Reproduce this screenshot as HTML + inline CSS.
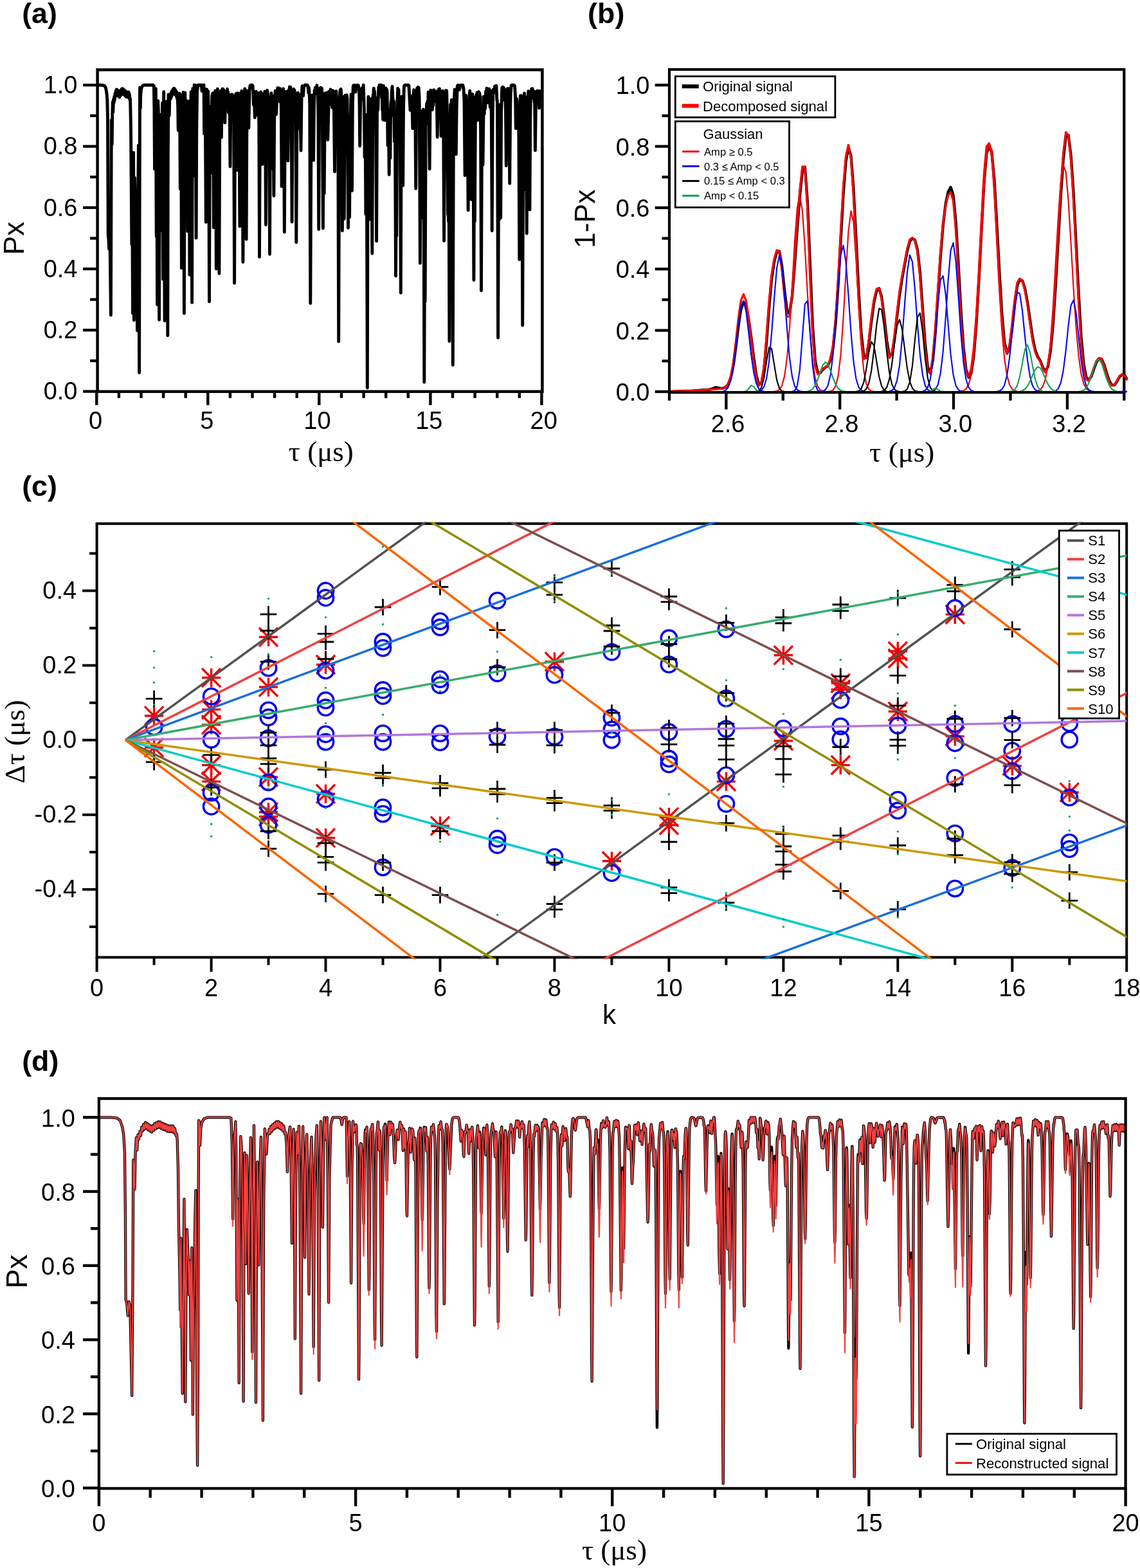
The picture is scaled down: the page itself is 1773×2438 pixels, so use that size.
<!DOCTYPE html>
<html lang="en"><head><meta charset="utf-8"><title>Figure</title><style>html,body{margin:0;padding:0;background:#fff}svg{display:block}</style></head><body>
<svg xmlns="http://www.w3.org/2000/svg" width="1773" height="2438" viewBox="0 0 1773 2438">
<rect width="1773" height="2438" fill="#fff"/>
<g id="pa">
<clipPath id="ca"><rect x="151.6" y="108.55" width="691.8" height="500.34999999999997"/></clipPath>
<path d="M150.3 132.3L158.6 132.3L162.1 133.2L162.6 133.7L164.3 136.2L164.6 137.4L165.9 144.8L166.8 154.9L167.5 184.1L168.2 365.9L169 372.4L169.6 387.1L170.4 369.2L171.1 376.9L172.4 489.9L173.3 186.8L173.8 194.3L174.2 224.5L174.7 180.2L175.3 158.5L175.8 174.3L176.5 154.5L177.1 160.1L177.7 150.3L178.3 155.9L179 144.9L179.6 149.8L180.2 141.3L180.8 147.6L181.4 138.9L182.1 146.6L182.7 139.9L183.3 148.6L183.9 141.6L184.6 150L185.2 143.4L185.8 151.4L186.4 142.8L187.1 149L187.7 140.2L188.3 147.2L188.9 139L189.5 145.9L190.2 137.7L190.8 145.2L191.4 138.2L192 146.5L192.7 139.6L193.3 147.7L193.9 140.4L194.5 148.5L195.1 141.5L195.8 149.8L196.4 142.7L197 150.8L197.6 143.2L198.3 150.8L198.9 143.2L199.5 150.8L200.1 143.2L200.8 152.2L201.4 146.5L202 155.6L202.6 153.5L203.5 199.2L204.9 380.1L205.5 287.9L206.5 487.2L207.6 237.3L208.4 497.9L209.5 276.4L211 360.5L211.6 319.7L212.2 444.6L212.8 300L213.5 514.1L214 380.7L215.4 226.3L216.6 579.6L217.5 136.2L217.8 138.5L218.3 168.3L218.8 147.7L219.4 140.1L219.6 138.4L221.2 134L223.7 132.3L238.1 132.3L239.3 133.3L239.9 167.6L240.5 263.1L241 182.5L241.4 156.7L242.3 137.8L243.2 367.4L243.9 246.7L244.6 473.6L245.2 232.4L245.7 156.7L246.3 169.9L246.6 195.9L247.6 497.2L248.4 177.9L249.2 320.5L250 183.8L251.1 358.4L251.8 236.2L252.6 159.9L253.6 434.2L254 246.6L254.7 142.7L256.1 498.7L257 189.6L258 322.2L258.7 205.8L259.4 157.7L260.8 521.8L261.3 240.5L262 147L263.2 179.6L263.7 156.8L264.8 151.4L264.9 147.5L265.5 153.2L266.2 143.7L266.8 150.4L267.4 141.4L268 147.8L268.6 139.6L269.3 146.4L269.9 137.8L270.5 144.8L271.1 137.5L271.8 146L272.4 139.3L273 147.5L273.6 140.9L274.3 149.9L274.9 143.3L275.5 153.5L275.8 151.4L276.1 151.8L276.7 166.1L277.2 202.5L277.9 161.4L279.1 145.1L279.7 185.2L280.3 294L280.8 185.8L281.5 147.5L282.4 416.9L283 204.8L283.7 151.6L284.4 179.5L285.1 143.5L285.7 236.3L286.4 487.2L287.1 207.9L287.8 144.2L288.4 199.5L289.1 312.4L289.6 197L290.5 156.6L291.8 359.6L292.7 206.4L293.6 157.7L294.3 239.3L294.9 427.2L295.6 229.8L296.1 182.9L297.2 142.6L297.9 237.8L298.6 470.4L299.2 211L299.8 137.6L300.6 182.6L301.1 273.5L302.1 135.3L302.2 132.3L302.7 141.9L303.2 160.7L304 132.4L305.1 370.1L305.7 208.6L306.6 141.7L308 132.3L312.8 132.3L313.4 134.7L314.1 141.6L314.6 134.8L315.2 132.5L317 132.3L317.6 208L318.2 158L319.1 138.2L320.3 345.4L320.8 199L321.5 139L322.4 151.1L323 144.3L323.7 141.9L324.6 189.3L325.5 469L326.5 171.8L326.7 165.8L327 167.5L327.2 166.5L327.6 178.1L327.9 176.5L328 179.2L328.8 268.9L329.6 155.1L329.8 148.6L330 148.3L330.3 150.4L330.9 144.8L331.6 186.9L332.3 353.9L333.4 155.5L333.6 147.9L333.8 146.8L334.1 148.1L334.7 141.2L335 151.2L335.6 214.5L336.3 418L337.3 162.1L338.4 138.1L339.1 174.2L339.7 151.2L340.9 425.4L341.7 213L342.4 145.3L342.6 144.5L342.8 146L343.4 141.2L344.4 213.5L345.1 158.3L345.9 138.2L346.5 154.7L347.1 138.4L347.8 146.6L348.4 141L349.8 190.9L350.5 159.7L351.4 148.7L351.7 149.8L352.2 160.8L353.4 138.4L354 147.1L354.6 142.8L355.3 175.1L355.9 147.4L356.4 172.1L357 150.8L358 259.1L358.8 171.8L359.7 146.9L360.5 177.2L361.2 147.9L361.3 147L361.5 148.5L361.7 147.9L362.1 151L362.8 187L363.5 159.3L364.6 440.3L365.6 171.1L365.9 151.9L366.1 149.6L366.4 150.9L366.9 145.8L367.4 163.4L368.2 264.6L369.5 146.4L369.6 144.8L370.2 149.4L370.7 145.7L371.3 175.6L371.9 159.6L372.9 351.9L374.1 160.9L374.5 144.5L375.2 149.5L375.8 141.5L376.7 156.6L377.9 407.5L379.2 162L379.5 142.9L380.1 146.6L380.8 137.9L381.4 148.1L381.7 147.5L381.9 149.4L382.2 165.8L383.1 372.1L383.9 187.5L384.5 141.3L385.1 145.3L385.3 143.6L385.5 145.4L386.8 199L388 141.4L388.9 133.3L389.6 132.4L392.1 132.3L392.7 132.6L393 133.7L393.6 140.5L394.3 163L394.9 148.8L395.4 151.9L396.3 182.9L397 152.5L397.2 149.9L397.6 151.7L398.2 142.3L399.2 151.3L399.7 178.8L400.4 148.7L401 162.4L401.9 144.8L402.8 197.1L403.5 399.5L404.4 180.3L404.7 160.2L405.7 142.9L406.4 171.6L406.9 150.9L407.1 154.2L408.2 255.4L409.4 151.5L409.8 145.8L410.4 148.4L411.2 180.6L411.7 146.9L411.9 142.1L412.1 145L412.7 187.2L413.4 349.5L414.5 157.9L415.7 140.5L416.6 150.4L417.5 183L418.1 150.9L418.7 200.7L419.5 395.3L420.5 165.5L420.8 152.4L421 151.1L421.3 152.2L421.9 144.6L422.4 170L423.2 262.3L424.1 161.1L424.4 149.4L424.8 157.9L425.9 304.6L427 151.3L427.2 150.2L427.5 151.4L428.1 141.4L428.7 149.1L429.1 147.7L429.7 177.9L430.8 146.6L431 145L431.2 146.2L431.8 136.8L432.5 144.7L433.1 136.8L434.1 157.7L434.6 143.1L435 145.6L435.6 137.7L436.2 146.5L436.8 142.3L437.3 168.5L438.1 289.9L439 163.1L439.3 155.8L439.7 169.8L440.6 138L441.4 176.2L442.3 360.9L443.5 154L444 156.2L444.7 142.4L445.3 149.5L445.8 142.4L446.2 145.9L446.5 144.1L446.8 146.9L447.8 250.1L449.3 139.6L449.9 143.6L450.5 134.9L451.2 142.8L451.8 135.3L452.4 146.2L452.7 145.9L452.9 148.4L454.1 345.1L455.3 148.5L455.5 142L456.1 146.5L456.8 138.4L457.4 147.4L458 140.2L458.6 150L459.3 145.3L460 194.1L460.8 376.7L462 155.1L462.6 169L463.3 144.2L463.8 148.4L464.3 162L465.1 146.7L465.7 158.7L466 157.2L466.2 158.7L466.7 197.6L466.9 201.9L467.1 197.7L467.4 200.8L468 234.1L469 154.5L469.8 135.1L470.1 133.7L470.5 135.1L471.6 148.8L472.4 136.4L473 133.1L474.3 132.3L477.9 132.3L478.5 132.7L479.4 138.3L479.8 144.2L480.4 136.3L481.4 150.1L481.7 161.9L482.8 471.6L484 188.9L484.2 171.4L484.8 179.3L485.6 148L486.2 170.8L486.7 161.4L486.8 165.9L487.6 249.3L488.4 166.8L489.2 140.1L489.8 145.7L490.4 136.4L491 143.8L491.3 141.9L491.9 145.1L492.9 132.8L493.5 142L494.1 137.7L494.9 180.1L495.7 356.5L496.6 173.3L496.9 154.5L497.9 137.3L498.5 144.4L499.1 136.1L499.7 144.2L500.4 137.2L501.2 157.3L502.4 355.1L503.2 201.8L504.2 300.8L505.4 145.8L505.6 144.9L506 147.5L506.2 146.5L506.5 147.4L506.6 146.3L506.7 147.7L507.3 172.5L508 144.2L508.6 173.4L509.2 165.1L509.8 217.4L511.6 142.3L512.2 148.1L512.8 142L513.4 154.8L514.1 139L515.1 162.2L515.5 160.6L516.1 150L516.6 167.3L517.8 140.9L518.4 150.4L519.1 146.6L520.5 267L521.5 169.1L522 174.9L522.8 141.6L524 158L524.7 195.1L525.3 174.5L525.7 190.2L526.7 531L527.7 189.4L528 159.6L529 139.9L529.6 146.4L530.3 138.5L531.4 160.3L532.4 358.8L533.2 187.2L533.9 150.7L534.4 177.6L535.3 340.4L536.5 150.8L536.7 148.5L537 149.5L537.7 161.1L538.2 153.5L538.6 171.1L539.2 147.7L540 153.2L540.6 194.5L541.5 354.2L542.3 203.2L542.4 201.4L542.7 203.4L542.9 212.4L543.6 337.8L544.5 190.2L544.7 182.8L545.1 184.9L545.3 180.2L546 146.7L546.4 149.8L546.6 164.5L547.5 296.5L548.4 163.3L549.2 135.2L549.9 132.6L550.8 132.4L551.6 133.1L552.9 143.1L553.9 134.4L554.5 132.7L555.9 132.3L557.3 132.6L558.2 138L558.9 149.4L559.7 227L560.9 144.4L561.1 143.1L561.6 146.6L561.9 144.9L562.4 152.2L563 136.9L563.7 153.2L564.2 137.7L564.3 136.9L564.5 138.5L565.2 132.3L566.4 168.9L567.1 244.6L568 185.7L568.9 333.2L569.7 192.6L569.9 178.5L570.1 184.4L571.3 603L572.2 217.8L572.9 150.5L573.5 173L574.3 299.3L575.1 224L575.9 341.2L576.8 179.4L577.2 156.3L577.4 153.7L577.6 158.5L578.8 394.2L579.8 169.3L580.1 149.5L580.4 147L580.7 147.9L581.3 137.1L582 144.4L582.3 141.4L582.6 143.9L583.4 170.9L584 151.7L584.4 158.6L585.6 374.9L586.5 171.6L586.7 163.9L587.4 171.1L587.6 170.6L587.7 171.1L587.8 170.5L588.8 135.9L589.4 140.9L590.1 132.3L590.7 139.5L591.4 132.3L591.9 138.8L592.4 132.3L592.7 132.3L593.7 152.2L594.2 148.7L594.7 171L595.1 164.1L595.6 186L596.3 133.2L597.4 147.9L598.2 187.1L599.2 146.4L599.3 146L599.4 146.8L599.7 144.3L600.2 137L601 153.8L601.5 139.3L602.1 142.7L603.1 226.1L603.8 174L604 170.3L604.1 172.7L605.2 271.5L606 183L606.9 246L607.7 162.5L608.3 157L608.6 160.3L609.2 142.8L610 134.5L611 153.8L611.7 179.7L612.6 157.4L613.5 220.3L614.1 185.5L614.3 183.8L614.4 188.2L615.5 429.1L616.2 316.2L616.6 364.2L616.8 366.5L616.8 361.2L617.8 162.8L618.7 137.5L619.3 144.8L620 139.2L620.6 170.6L621.2 158L621.7 183L621.8 184.5L622.1 178L622.3 189.9L623.3 455.2L624.1 212.3L624.9 150.1L625.8 175L626.7 288.6L627.5 170.1L628.4 135.1L628.8 133.1L629.6 132.4L635 132.3L635.6 132.6L635.9 133.3L638 171.3L638.4 164.7L638.9 171.4L639.3 155.7L639.8 159.5L640.3 149.2L640.9 159.5L641.8 199.7L642.7 153.9L643.6 139.8L644.3 147.9L644.9 141.9L645.8 172.3L646.7 293.3L647.7 157.3L648.6 137.5L649.2 144.1L649.9 135.5L650.5 143.4L651.1 135.9L652.1 151.7L652.3 168.4L653.4 409.2L654.6 172.7L655.6 291.6L656.4 245.5L657.1 338.8L658 197.5L658.4 169.9L659 256.6L659.8 594.2L660.4 422.7L661 469.1L661.2 454.3L662.2 188L662.4 180L662.9 189.3L663.6 161.4L664.2 176.8L664.8 158L665.4 192.1L666.1 143.1L667.1 163.7L668.1 262.8L669 164.6L669.8 140.2L670.6 165L671.1 141L671.8 145.5L672.4 170.8L673.1 146.6L673.7 164.5L674.8 139.7L675.8 156.7L676.3 148.6L676.4 147.8L676.6 149.1L677.3 141.8L677.9 157.3L678.5 142.6L679.4 165.1L680.2 213.3L681 154.8L682.2 139.2L682.9 146.3L683.5 138L683.9 144L684.8 183.6L684.9 185.3L685.2 177.9L685.4 179.8L686.1 211.5L687.2 144.2L687.9 148.2L688.5 141.1L689.3 160.2L689.6 178.3L690.6 374.6L691.3 214.8L692 152.7L692.4 145.8L692.9 166L693.5 140.8L694.1 146.6L694.7 141L695.2 163.8L696.6 334.1L697.1 316.6L697.5 344.3L698.2 310.7L698.9 530.5L700 185.1L700.7 162.1L701.5 191.2L702.2 157.1L702.3 155.3L702.5 155.8L703.1 174.6L703.4 215.8L704.3 567.6L705.4 188.7L705.6 169.2L707.2 139.2L708.7 197.3L709.3 239.9L710.2 165.3L711.2 134.6L711.8 132.6L712.4 132.5L713 132.9L714.4 139.6L715.4 133.8L716.2 132.5L719.9 132.5L720.9 139.2L720.9 136.5L722 157.7L723.1 272.8L724.6 148.1L725.7 192.2L725.9 191.7L726 192.4L726.2 190.2L726.8 172.7L727 178.4L728.1 327L728.8 188.6L729.8 150.9L730.8 141.1L731.9 160.8L733 310.3L733.8 182.7L734.2 154.6L734.7 146.2L735.5 157.6L735.8 173.3L736.9 435.5L737.5 292.7L737.7 288.8L738.4 344.1L739.6 152.6L739.7 150.6L739.9 150.9L740.5 159.2L740.9 147.1L741.4 149.8L742 143.9L742.7 187.1L743.3 144.1L743.9 150.4L744.5 142.7L745.2 175.3L745.8 144.6L746.4 151.2L746.7 149.8L747 150.5L747.6 204.3L748.5 451.7L749.4 216.6L749.9 175L751 256.2L752.3 150.1L752.7 154.7L753.2 177.1L753.7 153.1L753.8 152.4L754 153.1L754.6 169.2L755.7 141.6L756.4 145.6L757 137.1L758.3 159.7L759.5 138.5L760.1 156.1L760.7 138.2L761.6 146.5L762.2 166.8L762.7 145.6L763.2 141.1L764.3 179.9L765.2 358.7L766.1 186.5L766.8 144.9L767 139.2L767.6 144.2L767.7 143.3L768.1 144.1L768.6 141.4L768.8 142.6L769.5 134.1L770.1 142L770.7 133.8L771.3 141.4L771.9 133.3L772.8 155.3L773 156.8L773.2 155.1L773.3 156.8L773.6 186.6L774.6 525.2L775.4 318.7L775.6 305.4L776.2 341.7L777.1 168.3L777.3 162.8L777.6 183.8L778.7 338.8L779.6 177.6L780.7 136.8L781.3 143.2L781.9 135.1L782.5 143.6L783.2 136.1L783.8 155.3L784.4 138.5L785 145.8L785.6 140.4L786.5 172.7L787.3 257.8L788.3 154.6L789.4 137.6L790 144.9L790.6 137.8L791.5 152.8L791.8 165.2L792.7 285.3L793.7 169L794.3 141L794.4 143.1L794.9 134.7L795.3 132.8L796.4 132.3L799.8 132.5L800.6 134.6L801.6 152.4L802.3 199.7L803.3 154.4L803.5 153.3L803.9 156.1L805 180.9L805.6 166.5L806.1 163.1L806.9 213.6L807.8 403.6L808.9 173.3L809.3 149.2L809.6 148.7L809.9 151L810.3 148.6L810.8 166.9L811.3 171.5L811.7 199.7L812.7 505.7L813.7 224.2L814.2 184.7L814.6 179.7L815.3 146.8L815.5 145L815.8 150.1L816.1 168.6L817.1 294.7L818.2 193.8L819.2 363.1L820.1 191.3L820.7 150.6L820.9 149.8L821.2 150.9L821.8 141.8L822.7 164.4L823.9 326L824.8 180.3L825.5 142.5L826.1 147.2L826.8 138.1L827.4 145.9L828 137.7L828.6 146L828.9 143.4L829.1 143.7L829.6 153.2L830.5 141.6L831 156.9L831.1 158.9L831.3 156.2L831.5 156.9L831.7 164.1L832.4 233.9L833.3 167.2L834.2 142.7L834.9 149.6L835.5 141.4L836.1 149.4L836.7 141.3L837.3 149.3L838 143L838.6 168.1L839.2 141.8L839.8 149.5L840.5 141.7L841.1 150.1L841.7 142.3L842.4 149.8" fill="none" stroke="#000" stroke-width="4.9" stroke-linejoin="round" stroke-linecap="round" clip-path="url(#ca)"/>
<rect x="151.6" y="108.5" width="691.8" height="500.3" fill="none" stroke="#000" stroke-width="4.5"/>
<line x1="150.3" y1="608.9" x2="150.3" y2="629.9" stroke="#000" stroke-width="4.4" stroke-linecap="butt"/>
<line x1="184.9" y1="608.9" x2="184.9" y2="618.9" stroke="#000" stroke-width="4.4" stroke-linecap="butt"/>
<line x1="219.5" y1="608.9" x2="219.5" y2="618.9" stroke="#000" stroke-width="4.4" stroke-linecap="butt"/>
<line x1="254.1" y1="608.9" x2="254.1" y2="618.9" stroke="#000" stroke-width="4.4" stroke-linecap="butt"/>
<line x1="288.7" y1="608.9" x2="288.7" y2="618.9" stroke="#000" stroke-width="4.4" stroke-linecap="butt"/>
<line x1="323.3" y1="608.9" x2="323.3" y2="629.9" stroke="#000" stroke-width="4.4" stroke-linecap="butt"/>
<line x1="357.9" y1="608.9" x2="357.9" y2="618.9" stroke="#000" stroke-width="4.4" stroke-linecap="butt"/>
<line x1="392.5" y1="608.9" x2="392.5" y2="618.9" stroke="#000" stroke-width="4.4" stroke-linecap="butt"/>
<line x1="427.1" y1="608.9" x2="427.1" y2="618.9" stroke="#000" stroke-width="4.4" stroke-linecap="butt"/>
<line x1="461.7" y1="608.9" x2="461.7" y2="618.9" stroke="#000" stroke-width="4.4" stroke-linecap="butt"/>
<line x1="496.3" y1="608.9" x2="496.3" y2="629.9" stroke="#000" stroke-width="4.4" stroke-linecap="butt"/>
<line x1="531" y1="608.9" x2="531" y2="618.9" stroke="#000" stroke-width="4.4" stroke-linecap="butt"/>
<line x1="565.6" y1="608.9" x2="565.6" y2="618.9" stroke="#000" stroke-width="4.4" stroke-linecap="butt"/>
<line x1="600.2" y1="608.9" x2="600.2" y2="618.9" stroke="#000" stroke-width="4.4" stroke-linecap="butt"/>
<line x1="634.8" y1="608.9" x2="634.8" y2="618.9" stroke="#000" stroke-width="4.4" stroke-linecap="butt"/>
<line x1="669.4" y1="608.9" x2="669.4" y2="629.9" stroke="#000" stroke-width="4.4" stroke-linecap="butt"/>
<line x1="704" y1="608.9" x2="704" y2="618.9" stroke="#000" stroke-width="4.4" stroke-linecap="butt"/>
<line x1="738.6" y1="608.9" x2="738.6" y2="618.9" stroke="#000" stroke-width="4.4" stroke-linecap="butt"/>
<line x1="773.2" y1="608.9" x2="773.2" y2="618.9" stroke="#000" stroke-width="4.4" stroke-linecap="butt"/>
<line x1="807.8" y1="608.9" x2="807.8" y2="618.9" stroke="#000" stroke-width="4.4" stroke-linecap="butt"/>
<line x1="842.4" y1="608.9" x2="842.4" y2="629.9" stroke="#000" stroke-width="4.4" stroke-linecap="butt"/>
<line x1="129.1" y1="608.6" x2="151.6" y2="608.6" stroke="#000" stroke-width="4.3" stroke-linecap="butt"/>
<text transform="translate(120.5 621.3) scale(1 1.045)" font-family="'Liberation Sans', Arial, Helvetica, sans-serif" font-size="38" text-anchor="end" fill="#000">0.0</text>
<line x1="140.1" y1="561" x2="151.6" y2="561" stroke="#000" stroke-width="4.3" stroke-linecap="butt"/>
<line x1="129.1" y1="513.3" x2="151.6" y2="513.3" stroke="#000" stroke-width="4.3" stroke-linecap="butt"/>
<text transform="translate(120.5 526) scale(1 1.045)" font-family="'Liberation Sans', Arial, Helvetica, sans-serif" font-size="38" text-anchor="end" fill="#000">0.2</text>
<line x1="140.1" y1="465.7" x2="151.6" y2="465.7" stroke="#000" stroke-width="4.3" stroke-linecap="butt"/>
<line x1="129.1" y1="418.1" x2="151.6" y2="418.1" stroke="#000" stroke-width="4.3" stroke-linecap="butt"/>
<text transform="translate(120.5 430.8) scale(1 1.045)" font-family="'Liberation Sans', Arial, Helvetica, sans-serif" font-size="38" text-anchor="end" fill="#000">0.4</text>
<line x1="140.1" y1="370.5" x2="151.6" y2="370.5" stroke="#000" stroke-width="4.3" stroke-linecap="butt"/>
<line x1="129.1" y1="322.8" x2="151.6" y2="322.8" stroke="#000" stroke-width="4.3" stroke-linecap="butt"/>
<text transform="translate(120.5 335.5) scale(1 1.045)" font-family="'Liberation Sans', Arial, Helvetica, sans-serif" font-size="38" text-anchor="end" fill="#000">0.6</text>
<line x1="140.1" y1="275.2" x2="151.6" y2="275.2" stroke="#000" stroke-width="4.3" stroke-linecap="butt"/>
<line x1="129.1" y1="227.6" x2="151.6" y2="227.6" stroke="#000" stroke-width="4.3" stroke-linecap="butt"/>
<text transform="translate(120.5 240.3) scale(1 1.045)" font-family="'Liberation Sans', Arial, Helvetica, sans-serif" font-size="38" text-anchor="end" fill="#000">0.8</text>
<line x1="140.1" y1="179.9" x2="151.6" y2="179.9" stroke="#000" stroke-width="4.3" stroke-linecap="butt"/>
<line x1="129.1" y1="132.3" x2="151.6" y2="132.3" stroke="#000" stroke-width="4.3" stroke-linecap="butt"/>
<text transform="translate(120.5 145) scale(1 1.045)" font-family="'Liberation Sans', Arial, Helvetica, sans-serif" font-size="38" text-anchor="end" fill="#000">1.0</text>
<text transform="translate(148.5 666.9) scale(1 1.045)" font-family="'Liberation Sans', Arial, Helvetica, sans-serif" font-size="38" text-anchor="middle" fill="#000">0</text>
<text transform="translate(321.7 666.9) scale(1 1.045)" font-family="'Liberation Sans', Arial, Helvetica, sans-serif" font-size="38" text-anchor="middle" fill="#000">5</text>
<text transform="translate(493.4 666.9) scale(1 1.045)" font-family="'Liberation Sans', Arial, Helvetica, sans-serif" font-size="38" text-anchor="middle" fill="#000">10</text>
<text transform="translate(667.3 666.9) scale(1 1.045)" font-family="'Liberation Sans', Arial, Helvetica, sans-serif" font-size="38" text-anchor="middle" fill="#000">15</text>
<text transform="translate(845.7 666.9) scale(1 1.045)" font-family="'Liberation Sans', Arial, Helvetica, sans-serif" font-size="38" text-anchor="middle" fill="#000">20</text>
<text x="36.9" y="370.5" font-family="'Liberation Sans', Arial, Helvetica, sans-serif" font-size="44" font-weight="normal" text-anchor="middle" fill="#000" transform="rotate(-90 36.9 370.5)">Px</text>
<text x="499.3" y="717.3" font-family="'Liberation Serif', 'Times New Roman', serif" font-size="45" font-weight="normal" text-anchor="middle" fill="#000">τ (μs)</text>
<text x="34.2" y="35.8" font-family="'Liberation Sans', Arial, Helvetica, sans-serif" font-size="44.8" font-weight="bold" text-anchor="start" fill="#000">(a)</text>
</g>
<g id="pb">
<clipPath id="cb"><rect x="1041.0" y="108.0" width="713.0" height="504.5"/></clipPath>
<clipPath id="cb2"><rect x="1746" y="108.0" width="8" height="504.5"/></clipPath>
<g clip-path="url(#cb)" fill="none" stroke-linejoin="round">
<path d="M1041 609L1076.8 607.6L1100.7 605.9L1104.7 605.4L1108.6 604L1112.6 602.4L1116.6 603L1120.6 603.9L1124.5 603.6L1128.5 601.9L1132.5 597.6L1136.5 587.6L1140.5 568.6L1144.4 540.1L1148.4 507.4L1152.4 480.7L1156.4 469.6L1160.4 475.1L1164.3 496.4L1168.3 524.2L1172.3 556L1176.3 583.9L1180.2 597.7L1184.2 595.9L1188.2 574.6L1192.2 531L1196.2 477.1L1200.1 433.7L1204.1 406.9L1208.1 391.4L1212.1 390.6L1216.1 413.4L1220 450.4L1224 482.6L1228 487.8L1232 460.4L1235.9 411.5L1239.9 355.8L1243.9 305.2L1247.9 265.5L1251.9 259.6L1255.8 312.9L1263.8 505.3L1267.8 560.9L1271.8 579.6L1275.7 579.6L1279.7 574.5L1283.7 571.2L1287.7 568.8L1291.6 559.3L1295.6 540.8L1299.6 502.8L1303.6 443.4L1311.5 302.7L1315.5 251.3L1319.5 228.5L1323.5 242.4L1327.4 293L1331.4 369.7L1335.4 451.6L1339.4 517.4L1343.4 553.4L1347.3 556.1L1351.3 532.7L1355.3 498.9L1359.3 469.9L1363.3 452.2L1367.2 448.2L1371.2 462.1L1375.2 493.5L1379.2 529.8L1383.1 552.9L1387.1 551.7L1391.1 527.4L1395.1 491.8L1399.1 458.6L1403 432.8L1407 410.8L1411 390L1415 375L1419 370.4L1422.9 373.2L1426.9 388.3L1430.9 423.5L1438.8 534.1L1442.8 571.2L1446.8 580.2L1450.8 560.2L1454.8 516L1462.7 399.2L1466.7 350L1470.7 317.1L1474.7 298.2L1478.6 291.1L1482.6 303.6L1486.6 345.9L1490.6 412.1L1494.5 483.2L1498.5 540.5L1502.5 574.9L1506.5 586.8L1510.5 580.3L1514.4 554.1L1518.4 505.2L1522.4 436.9L1526.4 359.2L1530.3 287.4L1534.3 238.9L1538.3 227.4L1542.3 236L1546.3 277.9L1550.2 345.6L1554.2 420.9L1558.2 487.1L1562.2 532L1566.2 549.4L1570.1 540.5L1574.1 510.5L1578.1 472.9L1582.1 444.2L1586 434.3L1590 436.3L1594 448.7L1598 470.4L1605.9 524.6L1609.9 543.8L1613.9 554.7L1617.9 560.9L1621.9 571.3L1625.8 578L1629.8 569.7L1633.8 545.9L1637.8 504.2L1641.7 445.1L1649.7 305.2L1653.7 247.8L1657.7 211.3L1661.6 210.2L1665.6 241.9L1669.6 300.7L1677.6 457.7L1681.5 523.4L1685.5 566.4L1689.5 587.2L1693.5 591.4L1697.4 584.9L1701.4 573.3L1705.4 562.6L1709.4 557.4L1713.4 558.4L1717.3 567.4L1721.3 580.5L1725.3 592.2L1729.3 598.8L1733.3 598.8L1737.2 593.1L1741.2 585.7L1745.2 582.3L1749.2 583.9L1753.1 590" stroke="#000" stroke-width="4.3"/>
<path d="M1041 609L1076.8 607.5L1112.6 605L1120.6 604.3L1124.5 603.5L1128.5 601.6L1132.5 596.7L1136.5 585.3L1140.5 563.7L1144.4 531.6L1148.4 495.2L1152.4 466.8L1156.4 457.6L1160.4 467.6L1164.3 495L1168.3 526.4L1172.3 560.8L1176.3 588.4L1180.2 599.6L1184.2 595.1L1188.2 570.1L1192.2 522.5L1196.2 467.3L1200.1 426.5L1204.1 402.6L1208.1 388.9L1212.1 391.1L1216.1 419.3L1220 460.1L1224 492.2L1228 492.3L1232 458.1L1235.9 404L1239.9 346.2L1243.9 296.5L1247.9 258.8L1251.9 259.8L1255.8 324.4L1259.8 429.8L1263.8 521.7L1267.8 569.3L1271.8 581.8L1275.7 579.1L1279.7 573.5L1283.7 570.7L1287.7 568.4L1291.6 557.3L1295.6 537.2L1299.6 495.3L1303.6 432.1L1307.6 358.5L1311.5 290.6L1315.5 242.8L1319.5 225.4L1323.5 246.1L1327.4 303.2L1335.4 466.2L1339.4 528.5L1343.4 558.7L1347.3 555.5L1351.3 527.7L1355.3 492.6L1359.3 465L1363.3 449.4L1367.2 447.9L1371.2 465.2L1375.2 499.6L1379.2 536.3L1383.1 556.5L1387.1 550.7L1391.1 522.3L1395.1 485.2L1399.1 452.8L1403 428.5L1411 386.3L1415 372.5L1419 370L1422.9 373.9L1426.9 391.4L1430.9 430.5L1438.8 544L1442.8 577.1L1446.8 580.9L1450.8 555.9L1454.8 507.9L1462.7 391.9L1466.7 347.2L1470.7 319.4L1474.7 303.8L1478.6 298.3L1482.6 312.7L1486.6 358.1L1494.5 496.1L1498.5 549.2L1502.5 578.4L1506.5 585.2L1510.5 573.2L1514.4 542.3L1518.4 491.3L1522.4 422.2L1526.4 343.9L1530.3 272.6L1534.3 227.7L1538.3 222.8L1542.3 234.6L1546.3 284.4L1554.2 433.5L1558.2 497L1562.2 537.1L1566.2 549.1L1570.1 535.9L1574.1 503.1L1578.1 465.6L1582.1 439.4L1586 433.1L1590 437L1594 451.3L1598 474.6L1602 503L1605.9 529.3L1609.9 547L1613.9 556.3L1617.9 561.9L1621.9 573.3L1625.8 579L1629.8 567.7L1633.8 541.2L1637.8 496.2L1641.7 434L1649.7 292.9L1653.7 238L1657.7 205.5L1661.6 211.2L1665.6 248.5L1669.6 312L1677.6 471.9L1681.5 534.6L1685.5 573.2L1689.5 590.2L1693.5 591.7L1697.4 583.4L1701.4 571.1L1705.4 560.8L1709.4 556.6L1713.4 558.8L1717.3 569.3L1721.3 582.9L1725.3 594.2L1729.3 599.7L1733.3 598.6L1737.2 592L1741.2 584.4L1745.2 581.9L1749.2 584.4L1753.1 591.2" stroke="#ff0000" stroke-width="3.3"/>
<path d="M1204.1 608.8L1208.1 608.1L1212.1 605.9L1216.1 599.7L1220 585.4L1224 557L1228 510L1232 445.8L1235.9 376.5L1239.9 322.6L1243.9 304L1247.9 328.1L1251.9 385.4L1255.8 455L1259.8 517.3L1263.8 561.8L1267.8 588L1271.8 600.9L1275.7 606.3L1279.7 608.2L1283.7 608.8" stroke="#ee0008" stroke-width="2.1"/>
<path d="M1287.7 608.9L1291.6 608.4L1295.6 606.4L1299.6 600.3L1303.6 584.5L1307.6 551.3L1311.5 496.1L1315.5 425.2L1319.5 359.9L1323.5 328L1327.4 345.2L1331.4 402.9L1335.4 475L1339.4 536.5L1343.4 576.4L1347.3 596.8L1351.3 605.2L1355.3 608L1359.3 608.8" stroke="#ee0008" stroke-width="2.1"/>
<path d="M1494.5 608.5L1498.5 607.5L1502.5 604.6L1506.5 597.7L1510.5 583.2L1514.4 556L1518.4 511.5L1522.4 448.6L1530.3 298.2L1534.3 242.8L1538.3 222.8L1542.3 244.6L1546.3 301.3L1554.2 451.8L1558.2 513.9L1562.2 557.5L1566.2 584L1570.1 598.2L1574.1 604.8L1578.1 607.5L1582.1 608.5" stroke="#ee0008" stroke-width="2.1"/>
<path d="M1609.9 608.7L1613.9 607.9L1617.9 605.9L1621.9 600.7L1625.8 589.5L1629.8 567.9L1633.8 531.3L1637.8 477.7L1645.7 340.3L1649.7 283.6L1653.7 256.4L1657.7 267.2L1661.6 312.4L1665.6 378.7L1669.6 449L1673.6 509.5L1677.6 553.7L1681.5 581.5L1685.5 596.7L1689.5 604.1L1693.5 607.3L1697.4 608.4" stroke="#ee0008" stroke-width="2.1"/>
<path d="M1124.5 608.4L1128.5 606.9L1132.5 602.3L1136.5 591.6L1140.5 571.1L1144.4 540.1L1148.4 504.2L1152.4 476.1L1156.4 468.1L1160.4 484.3L1164.3 516.8L1168.3 552.1L1172.3 579.7L1176.3 596.4L1180.2 604.5L1184.2 607.6L1188.2 608.7" stroke="#0505f5" stroke-width="2.1"/>
<path d="M1176.3 608.9L1180.2 608.4L1184.2 606.6L1188.2 601.3L1192.2 588L1196.2 561.1L1200.1 517.9L1204.1 464.3L1208.1 417.1L1212.1 396.5L1216.1 412.4L1220 457.2L1224 511.1L1228 556.3L1232 585.3L1235.9 600.1L1239.9 606.2L1243.9 608.3L1247.9 608.8" stroke="#0505f5" stroke-width="2.1"/>
<path d="M1232 608.8L1235.9 607.5L1239.9 600.1L1243.9 574.8L1251.9 472.6L1255.8 467.9L1259.8 514.8L1263.8 568.4L1267.8 597.7L1271.8 607L1275.7 608.8" stroke="#0505f5" stroke-width="2.1"/>
<path d="M1275.7 608.8L1279.7 608.2L1283.7 606L1287.7 599.3L1291.6 583.1L1295.6 551.3L1299.6 501.9L1303.6 443.5L1307.6 396.3L1311.5 381.5L1315.5 406.5L1319.5 459L1323.5 516.5L1327.4 561.5L1331.4 588.7L1335.4 601.8L1339.4 606.9L1343.4 608.5" stroke="#0505f5" stroke-width="2.1"/>
<path d="M1383.1 608.6L1387.1 607.2L1391.1 602.9L1395.1 591.6L1399.1 567.5L1403 526.8L1407 473.4L1411 422.9L1415 396.5L1419 407.1L1422.9 449.3L1426.9 503.9L1430.9 551.5L1434.9 582.8L1438.8 599.1L1442.8 605.9L1446.8 608.2L1450.8 608.8" stroke="#0505f5" stroke-width="2.1"/>
<path d="M1434.9 608.6L1438.8 607.2L1442.8 602.4L1446.8 589.8L1450.8 563.6L1454.8 521.7L1458.7 472.5L1462.7 435.3L1466.7 429.2L1470.7 457.6L1478.6 551.3L1482.6 582.9L1486.6 599.4L1490.6 606.1L1494.5 608.3L1498.5 608.9" stroke="#0505f5" stroke-width="2.1"/>
<path d="M1446.8 608.8L1450.8 608.1L1454.8 605.6L1458.7 598.2L1462.7 580.4L1466.7 546.3L1470.7 494.5L1474.7 435.1L1478.6 389.1L1482.6 377.6L1486.6 406.3L1490.6 461.3L1494.5 519.4L1498.5 563.8L1502.5 590L1506.5 602.4L1510.5 607.1L1514.4 608.5" stroke="#0505f5" stroke-width="2.1"/>
<path d="M1550.2 608.8L1554.2 608L1558.2 605.5L1562.2 598.7L1566.2 583.4L1570.1 556.2L1578.1 479.3L1582.1 454.8L1586 456.3L1590 483.2L1594 522.8L1598 559.8L1602 585.6L1605.9 599.8L1609.9 606L1613.9 608.2L1617.9 608.8" stroke="#0505f5" stroke-width="2.1"/>
<path d="M1637.8 608.7L1641.7 607.8L1645.7 604.5L1649.7 595.5L1653.7 576.3L1657.7 544.6L1661.6 505.8L1665.6 474.7L1669.6 466.7L1673.6 486.4L1681.5 560.1L1685.5 586.3L1689.5 600.5L1693.5 606.4L1697.4 608.3L1701.4 608.9" stroke="#0505f5" stroke-width="2.1"/>
<path d="M1176.3 608.8L1180.2 607.7L1184.2 602.6L1188.2 587.7L1192.2 561.9L1196.2 540.1L1200.1 542.3L1208.1 590.9L1212.1 603.9L1216.1 608.1L1220 608.9" stroke="#000" stroke-width="2.1"/>
<path d="M1331.4 608.8L1335.4 608L1339.4 604.5L1343.4 594.2L1347.3 573.6L1351.3 547.6L1355.3 531.3L1359.3 537.3L1367.2 585.4L1371.2 600.6L1375.2 606.8L1379.2 608.6" stroke="#000" stroke-width="2.1"/>
<path d="M1339.4 608.8L1343.4 608L1347.3 604.9L1351.3 595.9L1355.3 576L1359.3 543.3L1363.3 505.5L1367.2 479.8L1371.2 481.5L1375.2 509.4L1379.2 547.5L1383.1 578.9L1387.1 597.4L1391.1 605.4L1395.1 608.1L1399.1 608.8" stroke="#000" stroke-width="2.1"/>
<path d="M1371.2 608.6L1375.2 607.1L1379.2 602.2L1383.1 589.9L1387.1 566.8L1391.1 535.1L1395.1 506.7L1399.1 497L1403 511.9L1411 572.9L1415 593.5L1419 603.7L1422.9 607.6L1426.9 608.7" stroke="#000" stroke-width="2.1"/>
<path d="M1403 608.9L1407 608.2L1411 605L1415 594.2L1419 568.6L1422.9 528.9L1426.9 493.1L1430.9 486.8L1434.9 515.2L1438.8 556.5L1442.8 587.6L1446.8 602.6L1450.8 607.6L1454.8 608.8" stroke="#000" stroke-width="2.1"/>
<path d="M1156.4 609L1160.4 608.2L1164.3 604.4L1168.3 599.1L1172.3 601.1L1176.3 606.7L1180.2 608.8" stroke="#12a150" stroke-width="2.1"/>
<path d="M1255.8 608.6L1259.8 607.5L1263.8 604.8L1267.8 599.2L1271.8 590L1275.7 578.4L1279.7 567.8L1283.7 563L1287.7 566.1L1291.6 575.8L1295.6 587.6L1299.6 597.5L1303.6 603.9L1307.6 607.1L1311.5 608.4L1315.5 608.8" stroke="#12a150" stroke-width="2.1"/>
<path d="M1442.8 608.9L1446.8 608.3L1450.8 605.7L1454.8 603.5L1458.7 605.7L1462.7 608.3L1466.7 608.9" stroke="#12a150" stroke-width="2.1"/>
<path d="M1570.1 608.9L1574.1 608.3L1578.1 606L1582.1 599.4L1586 585.2L1594 543.5L1598 536.3L1602 547.3L1605.9 568.9L1609.9 589.1L1613.9 601.4L1617.9 606.8L1621.9 608.5" stroke="#12a150" stroke-width="2.1"/>
<path d="M1586 608.5L1590 607.5L1594 605L1598 600.3L1602 592.7L1605.9 583.3L1609.9 574.8L1613.9 570.4L1617.9 572.1L1621.9 579.2L1625.8 588.7L1629.8 597.2L1633.8 603.3L1637.8 606.6L1641.7 608.2L1645.7 608.8" stroke="#12a150" stroke-width="2.1"/>
<path d="M1677.6 608.8L1681.5 608.2L1685.5 606.6L1689.5 602.7L1693.5 595.2L1697.4 583.9L1701.4 571.1L1705.4 561.2L1709.4 558.9L1713.4 565.3L1721.3 589.9L1725.3 599.4L1729.3 605L1733.3 607.6L1737.2 608.6" stroke="#12a150" stroke-width="2.1"/>
</g>
<rect x="1041" y="108" width="707.3" height="502.1" fill="none" stroke="#000" stroke-width="4.2"/>
<g clip-path="url(#cb2)" fill="none" stroke-linejoin="round">
<path d="M1709.4 557.4L1713.4 558.4L1717.3 567.4L1721.3 580.5L1725.3 592.2L1729.3 598.8L1733.3 598.8L1737.2 593.1L1741.2 585.7L1745.2 582.3L1749.2 583.9L1753.1 590" stroke="#000" stroke-width="4.3"/>
<path d="M1709.4 556.6L1713.4 558.8L1717.3 569.3L1721.3 582.9L1725.3 594.2L1729.3 599.7L1733.3 598.6L1737.2 592L1741.2 584.4L1745.2 581.9L1749.2 584.4L1753.1 591.2" stroke="#ff0000" stroke-width="3.3"/>
</g>
<line x1="1743.2" y1="608.9" x2="1753" y2="608.9" stroke="#0505f5" stroke-width="2.6" stroke-linecap="butt"/>
<line x1="1041" y1="610.1" x2="1041" y2="622.8" stroke="#000" stroke-width="4.3" stroke-linecap="butt"/>
<line x1="1129.4" y1="610.1" x2="1129.4" y2="636.6" stroke="#000" stroke-width="4.3" stroke-linecap="butt"/>
<text transform="translate(1132.1 672.3) scale(1 1.045)" font-family="'Liberation Sans', Arial, Helvetica, sans-serif" font-size="38" text-anchor="middle" fill="#000">2.6</text>
<line x1="1217.8" y1="610.1" x2="1217.8" y2="622.8" stroke="#000" stroke-width="4.3" stroke-linecap="butt"/>
<line x1="1306.2" y1="610.1" x2="1306.2" y2="636.6" stroke="#000" stroke-width="4.3" stroke-linecap="butt"/>
<text transform="translate(1308.9 672.3) scale(1 1.045)" font-family="'Liberation Sans', Arial, Helvetica, sans-serif" font-size="38" text-anchor="middle" fill="#000">2.8</text>
<line x1="1394.6" y1="610.1" x2="1394.6" y2="622.8" stroke="#000" stroke-width="4.3" stroke-linecap="butt"/>
<line x1="1483" y1="610.1" x2="1483" y2="636.6" stroke="#000" stroke-width="4.3" stroke-linecap="butt"/>
<text transform="translate(1485.8 672.3) scale(1 1.045)" font-family="'Liberation Sans', Arial, Helvetica, sans-serif" font-size="38" text-anchor="middle" fill="#000">3.0</text>
<line x1="1571.5" y1="610.1" x2="1571.5" y2="622.8" stroke="#000" stroke-width="4.3" stroke-linecap="butt"/>
<line x1="1659.9" y1="610.1" x2="1659.9" y2="636.6" stroke="#000" stroke-width="4.3" stroke-linecap="butt"/>
<text transform="translate(1662.6 672.3) scale(1 1.045)" font-family="'Liberation Sans', Arial, Helvetica, sans-serif" font-size="38" text-anchor="middle" fill="#000">3.2</text>
<line x1="1748.3" y1="610.1" x2="1748.3" y2="622.8" stroke="#000" stroke-width="4.3" stroke-linecap="butt"/>
<line x1="1018.7" y1="609" x2="1041" y2="609" stroke="#000" stroke-width="4.3" stroke-linecap="butt"/>
<text transform="translate(1010.5 622.9) scale(1 1.045)" font-family="'Liberation Sans', Arial, Helvetica, sans-serif" font-size="38" text-anchor="end" fill="#000">0.0</text>
<line x1="1029.5" y1="561.3" x2="1041" y2="561.3" stroke="#000" stroke-width="4.3" stroke-linecap="butt"/>
<line x1="1018.7" y1="513.7" x2="1041" y2="513.7" stroke="#000" stroke-width="4.3" stroke-linecap="butt"/>
<text transform="translate(1010.5 527.6) scale(1 1.045)" font-family="'Liberation Sans', Arial, Helvetica, sans-serif" font-size="38" text-anchor="end" fill="#000">0.2</text>
<line x1="1029.5" y1="466" x2="1041" y2="466" stroke="#000" stroke-width="4.3" stroke-linecap="butt"/>
<line x1="1018.7" y1="418.3" x2="1041" y2="418.3" stroke="#000" stroke-width="4.3" stroke-linecap="butt"/>
<text transform="translate(1010.5 432.2) scale(1 1.045)" font-family="'Liberation Sans', Arial, Helvetica, sans-serif" font-size="38" text-anchor="end" fill="#000">0.4</text>
<line x1="1029.5" y1="370.6" x2="1041" y2="370.6" stroke="#000" stroke-width="4.3" stroke-linecap="butt"/>
<line x1="1018.7" y1="323" x2="1041" y2="323" stroke="#000" stroke-width="4.3" stroke-linecap="butt"/>
<text transform="translate(1010.5 336.9) scale(1 1.045)" font-family="'Liberation Sans', Arial, Helvetica, sans-serif" font-size="38" text-anchor="end" fill="#000">0.6</text>
<line x1="1029.5" y1="275.3" x2="1041" y2="275.3" stroke="#000" stroke-width="4.3" stroke-linecap="butt"/>
<line x1="1018.7" y1="227.6" x2="1041" y2="227.6" stroke="#000" stroke-width="4.3" stroke-linecap="butt"/>
<text transform="translate(1010.5 241.5) scale(1 1.045)" font-family="'Liberation Sans', Arial, Helvetica, sans-serif" font-size="38" text-anchor="end" fill="#000">0.8</text>
<line x1="1029.5" y1="180" x2="1041" y2="180" stroke="#000" stroke-width="4.3" stroke-linecap="butt"/>
<line x1="1018.7" y1="132.3" x2="1041" y2="132.3" stroke="#000" stroke-width="4.3" stroke-linecap="butt"/>
<text transform="translate(1010.5 146.2) scale(1 1.045)" font-family="'Liberation Sans', Arial, Helvetica, sans-serif" font-size="38" text-anchor="end" fill="#000">1.0</text>
<text x="924.8" y="340.2" font-family="'Liberation Sans', Arial, Helvetica, sans-serif" font-size="44.5" font-weight="normal" text-anchor="middle" fill="#000" transform="rotate(-90 924.8 340.2)">1-Px</text>
<text x="1402.8" y="718" font-family="'Liberation Serif', 'Times New Roman', serif" font-size="45" font-weight="normal" text-anchor="middle" fill="#000">τ (μs)</text>
<text x="914.1" y="35.8" font-family="'Liberation Sans', Arial, Helvetica, sans-serif" font-size="44.8" font-weight="bold" text-anchor="start" fill="#000">(b)</text>
<rect x="1050.3" y="118.7" width="248.6" height="63.8" fill="#fff" stroke="#000" stroke-width="2.8"/>
<line x1="1060.7" y1="134.3" x2="1086.7" y2="134.3" stroke="#000" stroke-width="6.1" stroke-linecap="butt"/>
<line x1="1060.7" y1="164.6" x2="1086.7" y2="164.6" stroke="#ff0000" stroke-width="6.1" stroke-linecap="butt"/>
<text x="1093" y="142.2" font-family="'Liberation Sans', Arial, Helvetica, sans-serif" font-size="22.1" font-weight="normal" text-anchor="start" fill="#000">Original signal</text>
<text x="1093" y="172.5" font-family="'Liberation Sans', Arial, Helvetica, sans-serif" font-size="22.1" font-weight="normal" text-anchor="start" fill="#000">Decomposed signal</text>
<rect x="1050.3" y="188.7" width="177.2" height="133.8" fill="#fff" stroke="#000" stroke-width="2.8"/>
<text x="1093.6" y="216.2" font-family="'Liberation Sans', Arial, Helvetica, sans-serif" font-size="22.0" font-weight="normal" text-anchor="start" fill="#000">Gaussian</text>
<line x1="1061.2" y1="235.6" x2="1087.6" y2="235.6" stroke="#ee0008" stroke-width="3.0" stroke-linecap="butt"/>
<text x="1095" y="241.6" font-family="'Liberation Sans', Arial, Helvetica, sans-serif" font-size="16.6" font-weight="normal" text-anchor="start" fill="#000">Amp ≥ 0.5</text>
<line x1="1061.2" y1="258.5" x2="1087.6" y2="258.5" stroke="#0505f5" stroke-width="3.0" stroke-linecap="butt"/>
<text x="1095" y="264.5" font-family="'Liberation Sans', Arial, Helvetica, sans-serif" font-size="16.6" font-weight="normal" text-anchor="start" fill="#000">0.3 ≤ Amp &lt; 0.5</text>
<line x1="1061.2" y1="281.4" x2="1087.6" y2="281.4" stroke="#000" stroke-width="3.0" stroke-linecap="butt"/>
<text x="1095" y="287.4" font-family="'Liberation Sans', Arial, Helvetica, sans-serif" font-size="16.6" font-weight="normal" text-anchor="start" fill="#000">0.15 ≤ Amp &lt; 0.3</text>
<line x1="1061.2" y1="304.3" x2="1087.6" y2="304.3" stroke="#12a150" stroke-width="3.0" stroke-linecap="butt"/>
<text x="1095" y="310.3" font-family="'Liberation Sans', Arial, Helvetica, sans-serif" font-size="16.6" font-weight="normal" text-anchor="start" fill="#000">Amp &lt; 0.15</text>
</g>
<g id="pc">
<rect x="150.6" y="814.2" width="1601.6" height="674.3" fill="none" stroke="#000" stroke-width="4.0"/>
<clipPath id="cc"><rect x="148.6" y="811.4000000000001" width="1603.8000000000002" height="679.9"/></clipPath>
<line x1="150.6" y1="1488.5" x2="150.6" y2="1511" stroke="#000" stroke-width="4.0" stroke-linecap="butt"/>
<text transform="translate(150.6 1549) scale(1 1.045)" font-family="'Liberation Sans', Arial, Helvetica, sans-serif" font-size="38" text-anchor="middle" fill="#000">0</text>
<line x1="239.6" y1="1488.5" x2="239.6" y2="1500.5" stroke="#000" stroke-width="4.0" stroke-linecap="butt"/>
<line x1="328.6" y1="1488.5" x2="328.6" y2="1511" stroke="#000" stroke-width="4.0" stroke-linecap="butt"/>
<text transform="translate(328.6 1549) scale(1 1.045)" font-family="'Liberation Sans', Arial, Helvetica, sans-serif" font-size="38" text-anchor="middle" fill="#000">2</text>
<line x1="417.5" y1="1488.5" x2="417.5" y2="1500.5" stroke="#000" stroke-width="4.0" stroke-linecap="butt"/>
<line x1="506.5" y1="1488.5" x2="506.5" y2="1511" stroke="#000" stroke-width="4.0" stroke-linecap="butt"/>
<text transform="translate(506.5 1549) scale(1 1.045)" font-family="'Liberation Sans', Arial, Helvetica, sans-serif" font-size="38" text-anchor="middle" fill="#000">4</text>
<line x1="595.5" y1="1488.5" x2="595.5" y2="1500.5" stroke="#000" stroke-width="4.0" stroke-linecap="butt"/>
<line x1="684.5" y1="1488.5" x2="684.5" y2="1511" stroke="#000" stroke-width="4.0" stroke-linecap="butt"/>
<text transform="translate(684.5 1549) scale(1 1.045)" font-family="'Liberation Sans', Arial, Helvetica, sans-serif" font-size="38" text-anchor="middle" fill="#000">6</text>
<line x1="773.5" y1="1488.5" x2="773.5" y2="1500.5" stroke="#000" stroke-width="4.0" stroke-linecap="butt"/>
<line x1="862.4" y1="1488.5" x2="862.4" y2="1511" stroke="#000" stroke-width="4.0" stroke-linecap="butt"/>
<text transform="translate(862.4 1549) scale(1 1.045)" font-family="'Liberation Sans', Arial, Helvetica, sans-serif" font-size="38" text-anchor="middle" fill="#000">8</text>
<line x1="951.4" y1="1488.5" x2="951.4" y2="1500.5" stroke="#000" stroke-width="4.0" stroke-linecap="butt"/>
<line x1="1040.4" y1="1488.5" x2="1040.4" y2="1511" stroke="#000" stroke-width="4.0" stroke-linecap="butt"/>
<text transform="translate(1040.4 1549) scale(1 1.045)" font-family="'Liberation Sans', Arial, Helvetica, sans-serif" font-size="38" text-anchor="middle" fill="#000">10</text>
<line x1="1129.4" y1="1488.5" x2="1129.4" y2="1500.5" stroke="#000" stroke-width="4.0" stroke-linecap="butt"/>
<line x1="1218.4" y1="1488.5" x2="1218.4" y2="1511" stroke="#000" stroke-width="4.0" stroke-linecap="butt"/>
<text transform="translate(1218.4 1549) scale(1 1.045)" font-family="'Liberation Sans', Arial, Helvetica, sans-serif" font-size="38" text-anchor="middle" fill="#000">12</text>
<line x1="1307.3" y1="1488.5" x2="1307.3" y2="1500.5" stroke="#000" stroke-width="4.0" stroke-linecap="butt"/>
<line x1="1396.3" y1="1488.5" x2="1396.3" y2="1511" stroke="#000" stroke-width="4.0" stroke-linecap="butt"/>
<text transform="translate(1396.3 1549) scale(1 1.045)" font-family="'Liberation Sans', Arial, Helvetica, sans-serif" font-size="38" text-anchor="middle" fill="#000">14</text>
<line x1="1485.3" y1="1488.5" x2="1485.3" y2="1500.5" stroke="#000" stroke-width="4.0" stroke-linecap="butt"/>
<line x1="1574.3" y1="1488.5" x2="1574.3" y2="1511" stroke="#000" stroke-width="4.0" stroke-linecap="butt"/>
<text transform="translate(1574.3 1549) scale(1 1.045)" font-family="'Liberation Sans', Arial, Helvetica, sans-serif" font-size="38" text-anchor="middle" fill="#000">16</text>
<line x1="1663.3" y1="1488.5" x2="1663.3" y2="1500.5" stroke="#000" stroke-width="4.0" stroke-linecap="butt"/>
<line x1="1752.2" y1="1488.5" x2="1752.2" y2="1511" stroke="#000" stroke-width="4.0" stroke-linecap="butt"/>
<text transform="translate(1752.2 1549) scale(1 1.045)" font-family="'Liberation Sans', Arial, Helvetica, sans-serif" font-size="38" text-anchor="middle" fill="#000">18</text>
<line x1="139.1" y1="1441" x2="150.6" y2="1441" stroke="#000" stroke-width="4.0" stroke-linecap="butt"/>
<line x1="128.1" y1="1382.9" x2="150.6" y2="1382.9" stroke="#000" stroke-width="4.0" stroke-linecap="butt"/>
<text transform="translate(119.1 1395.1) scale(1 1.045)" font-family="'Liberation Sans', Arial, Helvetica, sans-serif" font-size="38" text-anchor="end" fill="#000">-0.4</text>
<line x1="139.1" y1="1324.9" x2="150.6" y2="1324.9" stroke="#000" stroke-width="4.0" stroke-linecap="butt"/>
<line x1="128.1" y1="1266.8" x2="150.6" y2="1266.8" stroke="#000" stroke-width="4.0" stroke-linecap="butt"/>
<text transform="translate(119.1 1279) scale(1 1.045)" font-family="'Liberation Sans', Arial, Helvetica, sans-serif" font-size="38" text-anchor="end" fill="#000">-0.2</text>
<line x1="139.1" y1="1208.8" x2="150.6" y2="1208.8" stroke="#000" stroke-width="4.0" stroke-linecap="butt"/>
<line x1="128.1" y1="1150.7" x2="150.6" y2="1150.7" stroke="#000" stroke-width="4.0" stroke-linecap="butt"/>
<text transform="translate(119.1 1162.9) scale(1 1.045)" font-family="'Liberation Sans', Arial, Helvetica, sans-serif" font-size="38" text-anchor="end" fill="#000">0.0</text>
<line x1="139.1" y1="1092.7" x2="150.6" y2="1092.7" stroke="#000" stroke-width="4.0" stroke-linecap="butt"/>
<line x1="128.1" y1="1034.6" x2="150.6" y2="1034.6" stroke="#000" stroke-width="4.0" stroke-linecap="butt"/>
<text transform="translate(119.1 1046.8) scale(1 1.045)" font-family="'Liberation Sans', Arial, Helvetica, sans-serif" font-size="38" text-anchor="end" fill="#000">0.2</text>
<line x1="139.1" y1="976.6" x2="150.6" y2="976.6" stroke="#000" stroke-width="4.0" stroke-linecap="butt"/>
<line x1="128.1" y1="918.5" x2="150.6" y2="918.5" stroke="#000" stroke-width="4.0" stroke-linecap="butt"/>
<text transform="translate(119.1 930.7) scale(1 1.045)" font-family="'Liberation Sans', Arial, Helvetica, sans-serif" font-size="38" text-anchor="end" fill="#000">0.4</text>
<line x1="139.1" y1="860.5" x2="150.6" y2="860.5" stroke="#000" stroke-width="4.0" stroke-linecap="butt"/>
<g stroke="#f00000" stroke-width="3.4" fill="none">
<path d="M225 1113h29.2M239.6 1098.4v29.2M225 1098.4l29.2 29.2M254.2 1098.4l-29.2 29.2"/>
<path d="M225 1162.3h29.2M239.6 1147.7v29.2M225 1147.7l29.2 29.2M254.2 1147.7l-29.2 29.2"/>
<path d="M314 1053.8h29.2M328.6 1039.2v29.2M314 1039.2l29.2 29.2M343.2 1039.2l-29.2 29.2"/>
<path d="M314 1103.1h29.2M328.6 1088.5v29.2M314 1088.5l29.2 29.2M343.2 1088.5l-29.2 29.2"/>
<path d="M314 1126.9h29.2M328.6 1112.3v29.2M314 1112.3l29.2 29.2M343.2 1112.3l-29.2 29.2"/>
<path d="M314 1189.6h29.2M328.6 1175v29.2M314 1175l29.2 29.2M343.2 1175l-29.2 29.2"/>
<path d="M314 1215.1h29.2M328.6 1200.5v29.2M314 1200.5l29.2 29.2M343.2 1200.5l-29.2 29.2"/>
<path d="M402.9 990.5h29.2M417.5 975.9v29.2M402.9 975.9l29.2 29.2M432.1 975.9l-29.2 29.2"/>
<path d="M402.9 1068.3h29.2M417.5 1053.7v29.2M402.9 1053.7l29.2 29.2M432.1 1053.7l-29.2 29.2"/>
<path d="M402.9 1208.2h29.2M417.5 1193.6v29.2M402.9 1193.6l29.2 29.2M432.1 1193.6l-29.2 29.2"/>
<path d="M402.9 1262.7h29.2M417.5 1248.1v29.2M402.9 1248.1l29.2 29.2M432.1 1248.1l-29.2 29.2"/>
<path d="M402.9 1269.7h29.2M417.5 1255.1v29.2M402.9 1255.1l29.2 29.2M432.1 1255.1l-29.2 29.2"/>
<path d="M491.9 1033.4h29.2M506.5 1018.8v29.2M491.9 1018.8l29.2 29.2M521.1 1018.8l-29.2 29.2"/>
<path d="M491.9 1234.3h29.2M506.5 1219.7v29.2M491.9 1219.7l29.2 29.2M521.1 1219.7l-29.2 29.2"/>
<path d="M491.9 1302.8h29.2M506.5 1288.2v29.2M491.9 1288.2l29.2 29.2M521.1 1288.2l-29.2 29.2"/>
<path d="M669.9 1284.2h29.2M684.5 1269.6v29.2M669.9 1269.6l29.2 29.2M699.1 1269.6l-29.2 29.2"/>
<path d="M847.8 1028.8h29.2M862.4 1014.2v29.2M847.8 1014.2l29.2 29.2M877 1014.2l-29.2 29.2"/>
<path d="M936.8 1338.8h29.2M951.4 1324.2v29.2M936.8 1324.2l29.2 29.2M966 1324.2l-29.2 29.2"/>
<path d="M1025.8 1270.5h29.2M1040.4 1255.9v29.2M1025.8 1255.9l29.2 29.2M1055 1255.9l-29.2 29.2"/>
<path d="M1025.8 1282.9h29.2M1040.4 1268.3v29.2M1025.8 1268.3l29.2 29.2M1055 1268.3l-29.2 29.2"/>
<path d="M1114.8 1215.1h29.2M1129.4 1200.5v29.2M1114.8 1200.5l29.2 29.2M1144 1200.5l-29.2 29.2"/>
<path d="M1203.8 1018.8h29.2M1218.4 1004.2v29.2M1203.8 1004.2l29.2 29.2M1233 1004.2l-29.2 29.2"/>
<path d="M1203.8 1151.9h29.2M1218.4 1137.3v29.2M1203.8 1137.3l29.2 29.2M1233 1137.3l-29.2 29.2"/>
<path d="M1292.7 1062.3h29.2M1307.3 1047.7v29.2M1292.7 1047.7l29.2 29.2M1321.9 1047.7l-29.2 29.2"/>
<path d="M1292.7 1072.3h29.2M1307.3 1057.7v29.2M1292.7 1057.7l29.2 29.2M1321.9 1057.7l-29.2 29.2"/>
<path d="M1292.7 1189.6h29.2M1307.3 1175v29.2M1292.7 1175l29.2 29.2M1321.9 1175l-29.2 29.2"/>
<path d="M1381.7 1012.5h29.2M1396.3 997.9v29.2M1381.7 997.9l29.2 29.2M1410.9 997.9l-29.2 29.2"/>
<path d="M1381.7 1023.7h29.2M1396.3 1009.1v29.2M1381.7 1009.1l29.2 29.2M1410.9 1009.1l-29.2 29.2"/>
<path d="M1381.7 1106.3h29.2M1396.3 1091.7v29.2M1381.7 1091.7l29.2 29.2M1410.9 1091.7l-29.2 29.2"/>
<path d="M1470.7 955.4h29.2M1485.3 940.8v29.2M1470.7 940.8l29.2 29.2M1499.9 940.8l-29.2 29.2"/>
<path d="M1470.7 1144.9h29.2M1485.3 1130.3v29.2M1470.7 1130.3l29.2 29.2M1499.9 1130.3l-29.2 29.2"/>
<path d="M1559.7 1190.9h29.2M1574.3 1176.3v29.2M1559.7 1176.3l29.2 29.2M1588.9 1176.3l-29.2 29.2"/>
<path d="M1648.7 1232h29.2M1663.3 1217.4v29.2M1648.7 1217.4l29.2 29.2M1677.9 1217.4l-29.2 29.2"/>
</g>
<g stroke="#0000f0" stroke-width="3.4" fill="none">
<circle cx="239.6" cy="1130.4" r="12.2"/>
<circle cx="328.6" cy="1082.8" r="12.2"/>
<circle cx="328.6" cy="1150.1" r="12.2"/>
<circle cx="328.6" cy="1232.6" r="12.2"/>
<circle cx="328.6" cy="1254" r="12.2"/>
<circle cx="417.5" cy="1038.7" r="12.2"/>
<circle cx="417.5" cy="1104.3" r="12.2"/>
<circle cx="417.5" cy="1115.5" r="12.2"/>
<circle cx="417.5" cy="1147.8" r="12.2"/>
<circle cx="417.5" cy="1216.3" r="12.2"/>
<circle cx="417.5" cy="1254" r="12.2"/>
<circle cx="417.5" cy="1282.5" r="12.2"/>
<circle cx="506.5" cy="918.5" r="12.2"/>
<circle cx="506.5" cy="929.5" r="12.2"/>
<circle cx="506.5" cy="1042.7" r="12.2"/>
<circle cx="506.5" cy="1088.9" r="12.2"/>
<circle cx="506.5" cy="1100.2" r="12.2"/>
<circle cx="506.5" cy="1141.6" r="12.2"/>
<circle cx="506.5" cy="1153.6" r="12.2"/>
<circle cx="506.5" cy="1242.4" r="12.2"/>
<circle cx="595.5" cy="997.7" r="12.2"/>
<circle cx="595.5" cy="1007.6" r="12.2"/>
<circle cx="595.5" cy="1072.9" r="12.2"/>
<circle cx="595.5" cy="1082.2" r="12.2"/>
<circle cx="595.5" cy="1140.3" r="12.2"/>
<circle cx="595.5" cy="1153.6" r="12.2"/>
<circle cx="595.5" cy="1255.5" r="12.2"/>
<circle cx="595.5" cy="1265.6" r="12.2"/>
<circle cx="595.5" cy="1348.7" r="12.2"/>
<circle cx="684.5" cy="965.8" r="12.2"/>
<circle cx="684.5" cy="975.4" r="12.2"/>
<circle cx="684.5" cy="1056.1" r="12.2"/>
<circle cx="684.5" cy="1065.5" r="12.2"/>
<circle cx="684.5" cy="1140.3" r="12.2"/>
<circle cx="684.5" cy="1154.2" r="12.2"/>
<circle cx="773.5" cy="933.8" r="12.2"/>
<circle cx="773.5" cy="1046.8" r="12.2"/>
<circle cx="773.5" cy="1145.1" r="12.2"/>
<circle cx="773.5" cy="1304" r="12.2"/>
<circle cx="773.5" cy="1314" r="12.2"/>
<circle cx="862.4" cy="1049.4" r="12.2"/>
<circle cx="862.4" cy="1145.5" r="12.2"/>
<circle cx="862.4" cy="1332.6" r="12.2"/>
<circle cx="951.4" cy="1013.8" r="12.2"/>
<circle cx="951.4" cy="1115.9" r="12.2"/>
<circle cx="951.4" cy="1134.4" r="12.2"/>
<circle cx="951.4" cy="1150.7" r="12.2"/>
<circle cx="951.4" cy="1357.4" r="12.2"/>
<circle cx="1040.4" cy="992.2" r="12.2"/>
<circle cx="1040.4" cy="1033.2" r="12.2"/>
<circle cx="1040.4" cy="1138.1" r="12.2"/>
<circle cx="1040.4" cy="1179.7" r="12.2"/>
<circle cx="1040.4" cy="1188.4" r="12.2"/>
<circle cx="1129.4" cy="978.3" r="12.2"/>
<circle cx="1129.4" cy="1085.9" r="12.2"/>
<circle cx="1129.4" cy="1133.3" r="12.2"/>
<circle cx="1129.4" cy="1205.3" r="12.2"/>
<circle cx="1129.4" cy="1249.8" r="12.2"/>
<circle cx="1218.4" cy="1132.7" r="12.2"/>
<circle cx="1307.3" cy="1088.4" r="12.2"/>
<circle cx="1307.3" cy="1129.4" r="12.2"/>
<circle cx="1307.3" cy="1149.5" r="12.2"/>
<circle cx="1396.3" cy="1128.2" r="12.2"/>
<circle cx="1396.3" cy="1243.6" r="12.2"/>
<circle cx="1396.3" cy="1260.4" r="12.2"/>
<circle cx="1485.3" cy="945.5" r="12.2"/>
<circle cx="1485.3" cy="1125.7" r="12.2"/>
<circle cx="1485.3" cy="1155.5" r="12.2"/>
<circle cx="1485.3" cy="1209.6" r="12.2"/>
<circle cx="1485.3" cy="1295.8" r="12.2"/>
<circle cx="1485.3" cy="1381.6" r="12.2"/>
<circle cx="1574.3" cy="1125.7" r="12.2"/>
<circle cx="1574.3" cy="1167.3" r="12.2"/>
<circle cx="1574.3" cy="1198.9" r="12.2"/>
<circle cx="1574.3" cy="1349.5" r="12.2"/>
<circle cx="1663.3" cy="1124.5" r="12.2"/>
<circle cx="1663.3" cy="1150.1" r="12.2"/>
<circle cx="1663.3" cy="1239.9" r="12.2"/>
<circle cx="1663.3" cy="1309.8" r="12.2"/>
<circle cx="1663.3" cy="1320.2" r="12.2"/>
</g>
<g stroke="#000" stroke-width="2.8" fill="none">
<path d="M226.8 1086.3h25.6M239.6 1073.5v25.6"/>
<path d="M226.8 1184.9h25.6M239.6 1172.1v25.6"/>
<path d="M315.8 1173.9h25.6M328.6 1161.1v25.6"/>
<path d="M315.8 1224.4h25.6M328.6 1211.6v25.6"/>
<path d="M404.7 955.1h25.6M417.5 942.3v25.6"/>
<path d="M404.7 980.6h25.6M417.5 967.8v25.6"/>
<path d="M404.7 1028.8h25.6M417.5 1016v25.6"/>
<path d="M404.7 1139.1h25.6M417.5 1126.3v25.6"/>
<path d="M404.7 1158.8h25.6M417.5 1146v25.6"/>
<path d="M404.7 1179.1h25.6M417.5 1166.3v25.6"/>
<path d="M404.7 1187.9h25.6M417.5 1175.1v25.6"/>
<path d="M404.7 1292.3h25.6M417.5 1279.5v25.6"/>
<path d="M404.7 1319.6h25.6M417.5 1306.8v25.6"/>
<path d="M493.7 985.3h25.6M506.5 972.5v25.6"/>
<path d="M493.7 998h25.6M506.5 985.2v25.6"/>
<path d="M493.7 1024.7h25.6M506.5 1011.9v25.6"/>
<path d="M493.7 1196.6h25.6M506.5 1183.8v25.6"/>
<path d="M493.7 1310.9h25.6M506.5 1298.1v25.6"/>
<path d="M493.7 1332.4h25.6M506.5 1319.6v25.6"/>
<path d="M493.7 1341.1h25.6M506.5 1328.3v25.6"/>
<path d="M493.7 1389.9h25.6M506.5 1377.1v25.6"/>
<path d="M582.7 944h25.6M595.5 931.2v25.6"/>
<path d="M582.7 1201.6h25.6M595.5 1188.8v25.6"/>
<path d="M582.7 1209.9h25.6M595.5 1197.1v25.6"/>
<path d="M582.7 1341.1h25.6M595.5 1328.3v25.6"/>
<path d="M582.7 1391.6h25.6M595.5 1378.8v25.6"/>
<path d="M671.7 912.7h25.6M684.5 899.9v25.6"/>
<path d="M671.7 1217.7h25.6M684.5 1204.9v25.6"/>
<path d="M671.7 1225.6h25.6M684.5 1212.8v25.6"/>
<path d="M671.7 1292.3h25.6M684.5 1279.5v25.6"/>
<path d="M671.7 1391.6h25.6M684.5 1378.8v25.6"/>
<path d="M760.7 979.7h25.6M773.5 966.9v25.6"/>
<path d="M760.7 1037.5h25.6M773.5 1024.7v25.6"/>
<path d="M760.7 1135.1h25.6M773.5 1122.3v25.6"/>
<path d="M760.7 1158h25.6M773.5 1145.2v25.6"/>
<path d="M760.7 1226.5h25.6M773.5 1213.7v25.6"/>
<path d="M760.7 1234.9h25.6M773.5 1222.1v25.6"/>
<path d="M849.6 905.7h25.6M862.4 892.9v25.6"/>
<path d="M849.6 924.9h25.6M862.4 912.1v25.6"/>
<path d="M849.6 1135.1h25.6M862.4 1122.3v25.6"/>
<path d="M849.6 1158.8h25.6M862.4 1146v25.6"/>
<path d="M849.6 1240.7h25.6M862.4 1227.9v25.6"/>
<path d="M849.6 1248.6h25.6M862.4 1235.8v25.6"/>
<path d="M849.6 1341.1h25.6M862.4 1328.3v25.6"/>
<path d="M849.6 1405.5h25.6M862.4 1392.7v25.6"/>
<path d="M849.6 1414.2h25.6M862.4 1401.4v25.6"/>
<path d="M938.6 884h25.6M951.4 871.2v25.6"/>
<path d="M938.6 972.5h25.6M951.4 959.7v25.6"/>
<path d="M938.6 981h25.6M951.4 968.2v25.6"/>
<path d="M938.6 1005.1h25.6M951.4 992.3v25.6"/>
<path d="M938.6 1108.3h25.6M951.4 1095.5v25.6"/>
<path d="M938.6 1252.3h25.6M951.4 1239.5v25.6"/>
<path d="M938.6 1260.4h25.6M951.4 1247.6v25.6"/>
<path d="M1027.6 927.5h25.6M1040.4 914.7v25.6"/>
<path d="M1027.6 935.9h25.6M1040.4 923.1v25.6"/>
<path d="M1027.6 1001.5h25.6M1040.4 988.7v25.6"/>
<path d="M1027.6 1025h25.6M1040.4 1012.2v25.6"/>
<path d="M1027.6 1131.9h25.6M1040.4 1119.1v25.6"/>
<path d="M1027.6 1157.3h25.6M1040.4 1144.5v25.6"/>
<path d="M1027.6 1309h25.6M1040.4 1296.2v25.6"/>
<path d="M1027.6 1379.9h25.6M1040.4 1367.1v25.6"/>
<path d="M1027.6 1388.7h25.6M1040.4 1375.9v25.6"/>
<path d="M1116.6 968.3h25.6M1129.4 955.5v25.6"/>
<path d="M1116.6 1077.7h25.6M1129.4 1064.9v25.6"/>
<path d="M1116.6 1125.2h25.6M1129.4 1112.4v25.6"/>
<path d="M1116.6 1149h25.6M1129.4 1136.2v25.6"/>
<path d="M1116.6 1159.1h25.6M1129.4 1146.3v25.6"/>
<path d="M1116.6 1180.9h25.6M1129.4 1168.1v25.6"/>
<path d="M1116.6 1279.9h25.6M1129.4 1267.1v25.6"/>
<path d="M1116.6 1403.5h25.6M1129.4 1390.7v25.6"/>
<path d="M1205.6 959.9h25.6M1218.4 947.1v25.6"/>
<path d="M1205.6 969h25.6M1218.4 956.2v25.6"/>
<path d="M1205.6 1160.3h25.6M1218.4 1147.5v25.6"/>
<path d="M1205.6 1180.2h25.6M1218.4 1167.4v25.6"/>
<path d="M1205.6 1204.1h25.6M1218.4 1191.3v25.6"/>
<path d="M1205.6 1296.6h25.6M1218.4 1283.8v25.6"/>
<path d="M1205.6 1316h25.6M1218.4 1303.2v25.6"/>
<path d="M1205.6 1323.9h25.6M1218.4 1311.1v25.6"/>
<path d="M1205.6 1344.3h25.6M1218.4 1331.5v25.6"/>
<path d="M1205.6 1355h25.6M1218.4 1342.2v25.6"/>
<path d="M1294.5 940h25.6M1307.3 927.2v25.6"/>
<path d="M1294.5 949.8h25.6M1307.3 937v25.6"/>
<path d="M1294.5 1051.6h25.6M1307.3 1038.8v25.6"/>
<path d="M1294.5 1161.6h25.6M1307.3 1148.8v25.6"/>
<path d="M1294.5 1299.1h25.6M1307.3 1286.3v25.6"/>
<path d="M1294.5 1308.6h25.6M1307.3 1295.8v25.6"/>
<path d="M1294.5 1385.4h25.6M1307.3 1372.6v25.6"/>
<path d="M1383.5 929.8h25.6M1396.3 917v25.6"/>
<path d="M1383.5 1050.4h25.6M1396.3 1037.6v25.6"/>
<path d="M1383.5 1097.1h25.6M1396.3 1084.3v25.6"/>
<path d="M1383.5 1150.1h25.6M1396.3 1137.3v25.6"/>
<path d="M1383.5 1159.4h25.6M1396.3 1146.6v25.6"/>
<path d="M1383.5 1314.5h25.6M1396.3 1301.7v25.6"/>
<path d="M1383.5 1413.9h25.6M1396.3 1401.1v25.6"/>
<path d="M1472.5 909.4h25.6M1485.3 896.6v25.6"/>
<path d="M1472.5 919.4h25.6M1485.3 906.6v25.6"/>
<path d="M1472.5 1117.5h25.6M1485.3 1104.7v25.6"/>
<path d="M1472.5 1219.5h25.6M1485.3 1206.7v25.6"/>
<path d="M1472.5 1304h25.6M1485.3 1291.2v25.6"/>
<path d="M1472.5 1329.7h25.6M1485.3 1316.9v25.6"/>
<path d="M1561.5 885.3h25.6M1574.3 872.5v25.6"/>
<path d="M1561.5 897.7h25.6M1574.3 884.9v25.6"/>
<path d="M1561.5 978.5h25.6M1574.3 965.7v25.6"/>
<path d="M1561.5 1116.5h25.6M1574.3 1103.7v25.6"/>
<path d="M1561.5 1150.7h25.6M1574.3 1137.9v25.6"/>
<path d="M1561.5 1220.8h25.6M1574.3 1208v25.6"/>
<path d="M1561.5 1340.6h25.6M1574.3 1327.8v25.6"/>
<path d="M1561.5 1358.8h25.6M1574.3 1346v25.6"/>
<path d="M1650.5 1356.2h25.6M1663.3 1343.4v25.6"/>
<path d="M1650.5 1400.3h25.6M1663.3 1387.5v25.6"/>
</g>
<g clip-path="url(#cc)" stroke-width="3.5" fill="none">
<line x1="195.1" y1="1150.7" x2="686.5" y2="793.8" stroke="#515151"/>
<line x1="696.6" y1="1527.8" x2="1733" y2="773.6" stroke="#515151"/>
<line x1="195.1" y1="1150.7" x2="894.9" y2="793.8" stroke="#F14040"/>
<line x1="898.7" y1="1512" x2="1800.6" y2="1053" stroke="#F14040"/>
<line x1="195.1" y1="1150.7" x2="1160" y2="793.8" stroke="#1A6FDF"/>
<line x1="1164.6" y1="1499.6" x2="1785.5" y2="1271.4" stroke="#1A6FDF"/>
<line x1="195.1" y1="1150.7" x2="1845.7" y2="846.7" stroke="#37AD6B"/>
<line x1="195.1" y1="1150.7" x2="1845.7" y2="1119.3" stroke="#B177DE"/>
<line x1="195.1" y1="1150.7" x2="1845.7" y2="1383.3" stroke="#CC9900"/>
<line x1="195.1" y1="1150.7" x2="1505.2" y2="1507.6" stroke="#00CBCC"/>
<line x1="1318.4" y1="807.4" x2="1776.8" y2="931.5" stroke="#00CBCC"/>
<line x1="195.1" y1="1150.7" x2="927.9" y2="1507.6" stroke="#7D4E4E"/>
<line x1="742.1" y1="786" x2="1809.4" y2="1308.1" stroke="#7D4E4E"/>
<line x1="195.1" y1="1150.7" x2="795" y2="1507.6" stroke="#8E8E00"/>
<line x1="610" y1="775.5" x2="1816.9" y2="1495.2" stroke="#8E8E00"/>
<line x1="195.1" y1="1150.7" x2="666.7" y2="1507.6" stroke="#FB6501"/>
<line x1="499.3" y1="773.6" x2="1496.9" y2="1527.8" stroke="#FB6501"/>
<line x1="1332.5" y1="796" x2="1776" y2="1131.7" stroke="#FB6501"/>
</g>
<g fill="#12a150">
<circle cx="239.6" cy="1012.5" r="1.7"/>
<circle cx="239.6" cy="1038.1" r="1.7"/>
<circle cx="239.6" cy="1061.3" r="1.7"/>
<circle cx="239.6" cy="1095.6" r="1.7"/>
<circle cx="328.6" cy="1021.8" r="1.7"/>
<circle cx="328.6" cy="1281.3" r="1.7"/>
<circle cx="328.6" cy="1300.5" r="1.7"/>
<circle cx="417.5" cy="930.7" r="1.7"/>
<circle cx="417.5" cy="1017.2" r="1.7"/>
<circle cx="417.5" cy="1226.2" r="1.7"/>
<circle cx="506.5" cy="959.7" r="1.7"/>
<circle cx="506.5" cy="1069.4" r="1.7"/>
<circle cx="506.5" cy="1124.6" r="1.7"/>
<circle cx="506.5" cy="1256.4" r="1.7"/>
<circle cx="595.5" cy="850" r="1.7"/>
<circle cx="595.5" cy="970.7" r="1.7"/>
<circle cx="595.5" cy="1111.2" r="1.7"/>
<circle cx="595.5" cy="1220.4" r="1.7"/>
<circle cx="684.5" cy="1050.3" r="1.7"/>
<circle cx="684.5" cy="1074.7" r="1.7"/>
<circle cx="684.5" cy="1308.6" r="1.7"/>
<circle cx="684.5" cy="1391.6" r="1.7"/>
<circle cx="773.5" cy="947.5" r="1.7"/>
<circle cx="773.5" cy="1013.1" r="1.7"/>
<circle cx="773.5" cy="1272.6" r="1.7"/>
<circle cx="773.5" cy="1422.4" r="1.7"/>
<circle cx="862.4" cy="895.9" r="1.7"/>
<circle cx="862.4" cy="934.8" r="1.7"/>
<circle cx="951.4" cy="892.4" r="1.7"/>
<circle cx="951.4" cy="1139.1" r="1.7"/>
<circle cx="951.4" cy="1243.6" r="1.7"/>
<circle cx="951.4" cy="1266.8" r="1.7"/>
<circle cx="1040.4" cy="1234.9" r="1.7"/>
<circle cx="1129.4" cy="945.8" r="1.7"/>
<circle cx="1129.4" cy="1057.8" r="1.7"/>
<circle cx="1129.4" cy="1098.5" r="1.7"/>
<circle cx="1129.4" cy="1388.7" r="1.7"/>
<circle cx="1129.4" cy="1411.9" r="1.7"/>
<circle cx="1218.4" cy="1040.4" r="1.7"/>
<circle cx="1218.4" cy="1110.1" r="1.7"/>
<circle cx="1218.4" cy="1223.3" r="1.7"/>
<circle cx="1218.4" cy="1287.1" r="1.7"/>
<circle cx="1218.4" cy="1429.3" r="1.7"/>
<circle cx="1218.4" cy="1441" r="1.7"/>
<circle cx="1307.3" cy="1025.9" r="1.7"/>
<circle cx="1396.3" cy="921.4" r="1.7"/>
<circle cx="1396.3" cy="941.7" r="1.7"/>
<circle cx="1396.3" cy="986.4" r="1.7"/>
<circle cx="1396.3" cy="1078.1" r="1.7"/>
<circle cx="1396.3" cy="1180.9" r="1.7"/>
<circle cx="1396.3" cy="1292.9" r="1.7"/>
<circle cx="1396.3" cy="1328.3" r="1.7"/>
<circle cx="1396.3" cy="1426.4" r="1.7"/>
<circle cx="1485.3" cy="1097.3" r="1.7"/>
<circle cx="1485.3" cy="1178.6" r="1.7"/>
<circle cx="1574.3" cy="1380" r="1.7"/>
<circle cx="1663.3" cy="1214.6" r="1.7"/>
<circle cx="1663.3" cy="1269.7" r="1.7"/>
<circle cx="1663.3" cy="1291.2" r="1.7"/>
</g>
<rect x="1647.2" y="825" width="93.4" height="292" fill="#fff" stroke="#000" stroke-width="2.8"/>
<line x1="1659.8" y1="840.5" x2="1686" y2="840.5" stroke="#515151" stroke-width="4.0" stroke-linecap="butt"/>
<text x="1692.2" y="848.4" font-family="'Liberation Sans', Arial, Helvetica, sans-serif" font-size="22.1" font-weight="normal" text-anchor="start" fill="#000">S1</text>
<line x1="1659.8" y1="869.5" x2="1686" y2="869.5" stroke="#F14040" stroke-width="4.0" stroke-linecap="butt"/>
<text x="1692.2" y="877.4" font-family="'Liberation Sans', Arial, Helvetica, sans-serif" font-size="22.1" font-weight="normal" text-anchor="start" fill="#000">S2</text>
<line x1="1659.8" y1="898.5" x2="1686" y2="898.5" stroke="#1A6FDF" stroke-width="4.0" stroke-linecap="butt"/>
<text x="1692.2" y="906.4" font-family="'Liberation Sans', Arial, Helvetica, sans-serif" font-size="22.1" font-weight="normal" text-anchor="start" fill="#000">S3</text>
<line x1="1659.8" y1="927.5" x2="1686" y2="927.5" stroke="#37AD6B" stroke-width="4.0" stroke-linecap="butt"/>
<text x="1692.2" y="935.4" font-family="'Liberation Sans', Arial, Helvetica, sans-serif" font-size="22.1" font-weight="normal" text-anchor="start" fill="#000">S4</text>
<line x1="1659.8" y1="956.5" x2="1686" y2="956.5" stroke="#B177DE" stroke-width="4.0" stroke-linecap="butt"/>
<text x="1692.2" y="964.4" font-family="'Liberation Sans', Arial, Helvetica, sans-serif" font-size="22.1" font-weight="normal" text-anchor="start" fill="#000">S5</text>
<line x1="1659.8" y1="985.5" x2="1686" y2="985.5" stroke="#CC9900" stroke-width="4.0" stroke-linecap="butt"/>
<text x="1692.2" y="993.4" font-family="'Liberation Sans', Arial, Helvetica, sans-serif" font-size="22.1" font-weight="normal" text-anchor="start" fill="#000">S6</text>
<line x1="1659.8" y1="1014.6" x2="1686" y2="1014.6" stroke="#00CBCC" stroke-width="4.0" stroke-linecap="butt"/>
<text x="1692.2" y="1022.5" font-family="'Liberation Sans', Arial, Helvetica, sans-serif" font-size="22.1" font-weight="normal" text-anchor="start" fill="#000">S7</text>
<line x1="1659.8" y1="1043.6" x2="1686" y2="1043.6" stroke="#7D4E4E" stroke-width="4.0" stroke-linecap="butt"/>
<text x="1692.2" y="1051.5" font-family="'Liberation Sans', Arial, Helvetica, sans-serif" font-size="22.1" font-weight="normal" text-anchor="start" fill="#000">S8</text>
<line x1="1659.8" y1="1072.6" x2="1686" y2="1072.6" stroke="#8E8E00" stroke-width="4.0" stroke-linecap="butt"/>
<text x="1692.2" y="1080.5" font-family="'Liberation Sans', Arial, Helvetica, sans-serif" font-size="22.1" font-weight="normal" text-anchor="start" fill="#000">S9</text>
<line x1="1659.8" y1="1101.6" x2="1686" y2="1101.6" stroke="#FB6501" stroke-width="4.0" stroke-linecap="butt"/>
<text x="1692.2" y="1109.5" font-family="'Liberation Sans', Arial, Helvetica, sans-serif" font-size="22.1" font-weight="normal" text-anchor="start" fill="#000">S10</text>
<text x="38.5" y="1153.2" font-family="'Liberation Serif', 'Times New Roman', serif" font-size="45" font-weight="normal" text-anchor="middle" fill="#000" transform="rotate(-90 38.5 1153.2)">Δτ (μs)</text>
<text x="947.5" y="1592" font-family="'Liberation Sans', Arial, Helvetica, sans-serif" font-size="42" font-weight="normal" text-anchor="middle" fill="#000">k</text>
<text x="34.2" y="770.5" font-family="'Liberation Sans', Arial, Helvetica, sans-serif" font-size="44.8" font-weight="bold" text-anchor="start" fill="#000">(c)</text>
</g>
<g id="pd">
<clipPath id="cd"><rect x="153.9" y="1708.1" width="1596.6999999999998" height="606.2000000000003"/></clipPath>
<g clip-path="url(#cd)" fill="none" stroke-linejoin="round" stroke-linecap="round">
<path d="M154.3 1737.3L173.4 1737.3L181.6 1738.4L182.7 1739L186.7 1742L187.3 1743.4L190.2 1752.4L192.3 1764.6L193.9 1791.8L194 1800L195 1893.8L195.6 2019.9L197.4 2027.8L198.8 2045.6L200.6 2023.9L202.2 2030.7L202.3 2033.2L205.2 2170L206.5 1994.6L207.3 1803.3L208.4 1812.3L209.5 1848.8L210.5 1795.3L211.9 1769L213.2 1788.1L214.6 1764.2L216 1771L217.5 1759.1L218.9 1765.9L220.3 1752.5L221.8 1758.5L223.2 1748.2L224.6 1755.8L226.1 1745.2L227.5 1754.6L229 1746.5L230.4 1757L231.8 1748.6L233.3 1758.7L234.7 1750.7L236.1 1760.4L237.6 1750L239 1757.6L240.4 1746.9L241.9 1755.4L243.3 1745.4L244.7 1753.8L246.2 1743.8L247.6 1752.9L249.1 1744.4L250.5 1754.5L251.9 1746.1L253.4 1755.9L254.8 1747.1L256.2 1756.9L257.7 1748.4L259.1 1758.5L260.5 1749.9L262 1759.6L263.4 1750.5L264.8 1759.7L266.3 1750.5L267.7 1759.7L269.2 1750.5L270.6 1761.4L272 1754.5L273.5 1765.5L273.9 1764.2L274.9 1762.9L275.7 1773.3L277 1818.3L277.9 1902.1L279.4 1976.6L280.2 2037.2L281.4 1925.5L283.8 2166.8L286.4 1864.4L287.7 2031.1L288.3 2179.7L289.6 1991.7L290.8 1911.7L292.8 1957.4L294.2 2013.4L295.3 1965.3L295.5 1960.4L295.6 1964L296.9 2115.1L298.3 1940.2L299.3 2054L299.9 2199.2L301.1 2037.9L302.3 1985.6L303.3 1896.6L304.4 1851L305.7 2027.2L306.3 2191.6L307.1 2278.5L308.1 2110L308.6 1855.2L309.2 1742.1L310 1744.8L311.1 1780.9L312.2 1755.9L313.5 1746.8L314 1744.7L317.6 1739.3L323.4 1737.3L356.6 1737.3L359.4 1738.5L360.9 1780L362.2 1895.6L363.3 1798L364.4 1766.9L365.7 1756.2L366.3 1744L367.3 1799.6L368.4 2021.8L369.2 1909.9L370 1864.8L370.1 1875.7L371.7 2150.3L373 1858.5L374.3 1766.9L375.6 1782.8L376.4 1814.3L377.5 1945.2L378.6 2178.9L379.5 1914.1L380.5 1792.5L381.5 1858.6L382.3 1965L383.1 1852.5L383.8 1796.3L384 1799.6L385.4 1892L386.7 2010.9L388.2 1863L389.8 1774.7L389.9 1768.6L390.1 1770.7L391.2 1891.2L392.3 2102.6L393.4 1875.6L395 1749.8L396.6 1908.5L398 2180.6L399 1936.2L400.3 1806.6L401.6 1875.1L402.5 1967L404.1 1826.3L405.9 1768L407.5 1939.4L408.9 2208.6L410.2 1868.2L411.8 1755.1L413.2 1768.1L414.5 1794.5L415.8 1767L417.3 1761.8L418.3 1760.4L418.5 1755.6L419.9 1762.6L421.3 1751.1L422.8 1759.2L424.2 1748.3L425.6 1756L427.1 1746.1L428.5 1754.3L430 1744L431.4 1752.4L432.8 1743.6L434.3 1753.9L435.7 1745.7L437.1 1755.7L438.6 1747.7L440 1758.6L441.4 1750.6L442.9 1762.9L443.5 1760.4L443.7 1760.2L444.1 1760.9L445.6 1778.2L446.9 1822.2L448.3 1772.5L450.5 1754.8L451 1752.1L451.2 1752.8L452.6 1801.3L453.9 1933L455.2 1802L456.6 1755.7L457.9 1864.7L458.8 2081.6L460.3 1825L461.7 1760.6L462.7 1775L463.3 1794.4L464.1 1767.7L465 1750.9L466.5 1863.1L468.1 2166.7L469.7 1828.8L471.1 1751.7L472.7 1818.6L474.1 1955.2L475.4 1815.6L476.8 1770.5L477.2 1763.9L477.3 1766.7L479.1 1865L480.5 2012.3L482.4 1827L484 1775.3L484.5 1768L486.3 1866.8L487.7 2094.2L489.1 1855.2L490.4 1798.6L491.5 1768.4L492.8 1749.8L494.6 1865L496.2 2146.3L497.4 1832.5L498.9 1743.7L500.6 1798.1L501.9 1908.2L503.2 1787.2L504.3 1741L504.4 1737.3L505.6 1749L506.7 1771.7L507.6 1750.6L508.6 1737.4L509.9 1838.2L511.1 2025.1L512.4 1829.7L514.5 1748.7L517 1739.2L517.8 1737.3L528.9 1737.3L530.3 1740.2L531.7 1748.6L533 1740.3L534.3 1737.5L534.4 1737.3L538.6 1737.3L540 1828.9L541.3 1768.4L542.9 1747L543.2 1743.9L543.4 1744.4L544.8 1830.2L546.1 1995.1L547.4 1818L548.8 1745.4L549 1743.4L549.1 1744.4L551 1760L552.5 1751.8L553.9 1748.9L554.4 1754.2L554.9 1780.5L555.3 1779.6L555.7 1782.1L556.1 1806.3L558 2144.7L558.5 2099.5L559.6 1852.6L560.4 1785.1L560.9 1777.8L561.6 1779.8L562 1778.7L563 1792.8L563.1 1793L563.5 1792.3L563.6 1790.8L563.9 1794L565.2 1889.7L565.7 1902.6L567.6 1764.9L568.1 1757.1L568.3 1756.6L568.6 1756.6L569.2 1759.2L570.5 1752.4L571.4 1768.5L572.1 1803.3L573.8 2005.5L574.3 1981L575.4 1823.4L576.2 1765.3L576.7 1756.2L577.2 1754.9L577.8 1756.4L578.6 1750.4L579.3 1748.1L579.9 1760.1L581.3 1836.8L582.6 2053L583.1 2083L584.7 1822.9L585.3 1773.4L585.8 1762.5L586.4 1759.1L587.9 1744.3L588.5 1755.9L589.5 1788L590.6 1759.8L590.7 1758.1L590.9 1760.1L591.9 1816.3L593.1 2054.2L593.6 2091.9L595.4 1834.9L596.3 1768L597 1753L597.1 1752.2L597.4 1752.1L597.9 1753.9L598.7 1748.7L599 1747.8L599.4 1748.1L600 1764.9L601.6 1835.5L603.3 1768.8L604.1 1754.1L605.1 1744.4L606.5 1764.4L608 1744.7L609.4 1754.6L610.8 1747.9L611.8 1762.9L613.2 1799.8L614 1808.2L614.5 1802.7L615.8 1770.5L616.6 1764.8L616.9 1764.1L617.7 1757.2L618 1757.7L618.2 1757.1L618.3 1757.3L618.5 1758.4L619.1 1769.2L619.6 1771.8L620.6 1757.4L622.3 1744.7L623.8 1755.2L624.6 1751.5L625.2 1750L626.8 1789.1L628.1 1755.5L629.4 1785.4L630.1 1764.6L630.6 1759.7L631.3 1779.9L632.5 1880.5L633 1890.7L634.8 1785.1L635.1 1779.1L635.7 1776.6L636.1 1773.1L636.8 1755L637 1754.2L637.2 1754.6L637.3 1756.4L638.3 1786.4L638.8 1791.6L640.4 1756.1L640.7 1755.1L641 1756.9L641.3 1756L641.6 1756.2L642.4 1759.9L644.2 1803.4L644.5 1800.3L645.3 1770.6L645.5 1769.3L645.6 1770L646.1 1786.3L646.6 1829.2L647.9 2067.2L648.3 2110L650.6 1784.3L651.2 1761L651.7 1758.3L652 1758.3L652.5 1759.8L653.6 1753.6L653.9 1753.6L654.1 1756.4L654.7 1774.9L656.6 1897.4L657.1 1883.1L658.5 1780.5L659.5 1754.4L659.8 1752.4L661.1 1757.9L661.7 1753.7L662.1 1752.9L662.2 1753.5L663.6 1789.7L664.6 1769L664.8 1768L664.9 1768.4L665.1 1770.3L665.9 1817.3L667 1970.9L667.5 2003L668 1976.8L669.1 1824.6L670 1771.9L671.1 1752.1L672.6 1758.2L674 1748.4L675.5 1763.5L676.1 1766.7L676.7 1784.1L677 1807.9L678.5 2043.7L679 2070.3L680.4 1869.4L681.8 1773.3L682.6 1750.1L682.9 1750.1L683.3 1750.9L684.1 1754.6L685.5 1744.1L686.9 1756.4L687.3 1755.7L687.6 1755.6L688.1 1758L688.7 1777.9L690.8 2027.4L691.2 2003.6L692.7 1804.1L693.3 1766.3L694.1 1748.2L694.4 1748.2L694.8 1749L695.6 1753L696 1751L696.5 1753.2L698.7 1810.2L699.4 1818L702.3 1748.3L703.5 1740.6L704.2 1738.5L704.8 1737.8L705.8 1737.4L711.7 1737.3L712.9 1737.7L713.6 1739L715 1747.2L716.8 1774.4L718 1757.3L719.2 1761L720 1771.3L720.9 1795.6L721.4 1798.5L722.8 1761.8L723.5 1758.6L724.3 1760.7L725.7 1749.4L727.1 1758.9L727.6 1757.7L727.9 1760.3L728.9 1790.5L729.2 1793.6L730.6 1757.1L730.8 1756.7L731.1 1758.9L732.1 1773.8L733.4 1756.7L733.8 1753.6L734.3 1752.4L735.4 1773.7L736.2 1815.7L738 2060.5L738.5 2035.7L740.1 1795.3L740.7 1771.1L741 1767.2L741.5 1765.5L742.9 1750.2L743.6 1757.2L744.7 1784.9L745.8 1759.9L746.3 1763.8L746.9 1787.4L748.4 1881.6L748.7 1886.2L750.4 1795.5L751.5 1760.5L752.3 1753.6L753 1755.9L753.5 1754.9L753.8 1756.8L754.4 1765.9L755.5 1795.8L756.8 1755L757.3 1749.2L757.6 1752.7L758.4 1770.5L759 1803.7L760.8 2000.1L761.3 1976.2L762.5 1807.5L763.2 1768.3L763.7 1760.9L764 1759.6L764.5 1759.9L765.9 1747.2L767.3 1757.8L767.7 1757.3L768 1759.2L770 1798.6L771.2 1765.3L771.6 1759.8L772.4 1783.7L772.9 1820.1L774.7 2055.5L775.2 2027.9L776.3 1848.2L777.1 1777.5L777.7 1761.6L778.2 1760.1L778.8 1761.3L780.3 1752.2L781.1 1765.7L781.5 1783L783.3 1894.6L783.8 1880.3L785.4 1772.1L786 1758L786.5 1760.8L787 1768.3L787.9 1807.6L789 1926.6L789.5 1945.8L791.1 1795.9L791.6 1769.7L792.1 1760.3L792.5 1758.9L793.2 1760.4L794.6 1748.3L796 1757.7L796.5 1755.5L796.8 1755.9L798.3 1792.4L800.8 1754.6L801.3 1752.7L801.8 1754.1L803.2 1742.7L804.7 1752.3L806.1 1742.8L806.9 1749.2L807.9 1764.4L808.3 1768.1L809 1756.3L809.6 1750.4L809.9 1750.7L810.4 1753.4L811.8 1743.9L813.3 1754.5L814.1 1750.6L814.7 1749.3L815.8 1781.1L817.7 1928L818.2 1910.3L819.8 1774.5L820.3 1765.7L821.3 1782.6L822.5 1750.6L823.3 1744.2L824.4 1761.4L825.2 1790.4L826.8 1992.5L827.3 2013.9L828 1969.4L829.4 1798.3L830.2 1763.5L830.3 1763.1L831.3 1766.3L832.3 1752.1L832.7 1749.5L833.4 1754.6L834.2 1758.1L834.8 1752.1L835.5 1749.5L836.2 1753.7L837 1751.5L837.7 1754.9L839.9 1879.9L840.4 1866.8L841.5 1802.8L843.4 1746.1L843.6 1745.7L843.9 1746.2L844.9 1751L846.3 1740.4L847.7 1750.1L849.2 1741L850.6 1754.1L850.9 1753.6L851.2 1753.8L851.7 1756.7L852.2 1769.4L852.7 1802.3L854 1966.2L854.4 1994.7L854.9 1968.5L856.2 1808.8L857.3 1756.9L857.8 1749L858.4 1750.5L859.2 1754.5L860.7 1744.7L862.1 1755.5L863.5 1746.9L865 1758.7L865.8 1754.7L866.4 1753L867.4 1771.1L868.2 1812.1L869.6 2010.5L870.1 2033L871.8 1807.1L872.1 1781.7L872.8 1764.9L872.9 1764.4L873.3 1767.3L874.1 1781.6L874.4 1779.7L875.2 1755.8L875.6 1751.7L876.4 1756L876.6 1755.7L876.8 1755.9L876.9 1756.8L878 1773.2L878.2 1773.4L878.4 1772L879 1761.4L880 1754.7L880.6 1759L881.2 1769.3L881.4 1769.9L882 1767.4L882.3 1769.3L883.5 1816.4L883.9 1821.5L884.6 1816.4L885.2 1820.1L886.7 1860.4L887.1 1852.1L888.9 1764.2L890 1746L890.6 1740.7L891.4 1739L891.9 1739.4L892.4 1740.6L894.2 1755L894.8 1757.3L895.3 1755.1L896.7 1742.2L897.3 1739.4L898 1738.3L899.1 1737.6L901.2 1737.3L909.5 1737.3L910.7 1737.7L911.5 1739.8L912.7 1745.7L912.8 1744.5L913.8 1751.7L915.2 1742.1L916.6 1756.2L917.1 1756.8L917.4 1758.8L918.1 1773.1L918.9 1854.2L920.2 2117.7L920.6 2147.8L922.1 1925.7L923.3 1805.8L923.8 1784.6L924 1784.3L924.1 1785.4L924.8 1792.9L925.1 1794.4L925.3 1794.1L926.7 1758.2L927 1756.3L927.3 1756.7L927.7 1760.7L928.6 1783.9L928.8 1784.5L928.9 1783.4L929.6 1772.5L929.9 1777.9L931.2 1857.2L931.8 1878.9L932.3 1867.8L933.6 1779L934.4 1758.1L935.3 1746.7L936.7 1753.5L938.2 1742.3L939.6 1751.2L940.3 1748.9L941.1 1750.6L941.5 1752.8L942.2 1750.1L942.5 1750L943.9 1737.9L945.4 1749.1L946.8 1743.8L947.9 1764.8L948.6 1795.1L950 1978.3L950.5 2008.5L950.9 1987.3L952.5 1786.9L953.2 1764.1L953.5 1760.3L954 1758.7L955.4 1743.3L956.8 1751.9L958.3 1741.9L959.7 1751.7L961.2 1743.2L963.1 1767.6L964 1822.5L965.8 2006.8L966.3 1986.3L967.7 1821.4L968 1815.7L968.5 1833L969.6 1929.7L970.1 1941.2L971.8 1789L972.8 1753.6L973.3 1752.5L974.1 1755.7L974.6 1754.5L975.2 1755.6L975.5 1754.2L975.8 1755.9L977.1 1786L977.4 1783.1L978.4 1750.8L978.5 1750L978.9 1751.7L980.1 1787L980.3 1788L980.5 1787.1L981.1 1775.2L981.3 1774.1L981.4 1777L982.7 1836.6L983 1840.3L984.1 1815L984.9 1805.7L987 1749.5L987.5 1750.8L988.4 1756.4L989.4 1750L989.9 1749L990.7 1762.1L991.1 1764.5L992.7 1745.4L993.7 1752.8L995.1 1773.4L995.3 1773.8L995.6 1771.9L995.9 1772.1L996.1 1771.5L997.4 1758.7L998.6 1779.7L999.8 1760.6L1001.4 1747.6L1002.8 1759.1L1003.7 1755.1L1004.1 1754.5L1004.2 1754.7L1005 1777.8L1007.1 1889.6L1007.6 1900.3L1008.4 1875.2L1009.8 1781.8L1010 1779.2L1010.6 1789.4L1010.8 1790.1L1010.9 1788.8L1012 1757.4L1012.8 1748.5L1014.3 1760.6L1014.6 1760.5L1014.8 1760.9L1015.1 1762.6L1015.5 1768.4L1017.1 1813.3L1017.6 1809.1L1018.6 1788.3L1018.7 1787.9L1018.9 1788.5L1019.1 1790.4L1019.5 1807.3L1020.3 1898.2L1021.5 2168.4L1021.9 2219.7L1022.4 2173.1L1024.2 1806.4L1025 1770.4L1027.2 1746.5L1028.6 1754.4L1030.1 1744.8L1031.5 1759.1L1032.1 1761.8L1032.6 1771.2L1033.3 1812.2L1034.5 1985L1035 2011.4L1035.5 1982.8L1036.9 1803.7L1037.6 1774.1L1038 1763.7L1038.5 1759.5L1039.2 1769.7L1039.6 1792.1L1041.2 1968.3L1041.7 1989.1L1043.5 1808.1L1044.4 1759.7L1044.9 1756.9L1045.2 1757L1045.5 1758.1L1046.2 1761.3L1047.1 1772.1L1048.3 1762.9L1049.4 1784.3L1050.6 1755.9L1050.8 1755.1L1051.1 1755.7L1051.6 1759.5L1051.9 1759.1L1052.1 1759.6L1052.4 1762.6L1053 1775.5L1054 1812.6L1055.4 1981.1L1055.9 2005.8L1057.2 1861.9L1057.8 1823L1058.1 1820.9L1058.8 1823.4L1059.1 1834.2L1060.4 1964.6L1060.9 1985.9L1062.8 1807.3L1063.2 1798.4L1063.4 1797.9L1064.2 1800.9L1064.7 1795.2L1065.6 1765.8L1066.4 1754.8L1066.8 1754.4L1066.9 1755L1067.2 1758.4L1067.7 1776.3L1069.3 1921.6L1069.8 1936L1071.9 1774.8L1072.5 1753.4L1073.8 1740.9L1074.4 1738.8L1075.4 1737.7L1077.4 1737.5L1079.2 1738.2L1080.2 1740.4L1081.6 1748.6L1082.2 1750.4L1082.9 1748.5L1084.5 1739.8L1085.1 1738.4L1085.9 1737.8L1089.2 1737.3L1092.4 1737.7L1093.4 1739.4L1094.5 1744.2L1094.7 1749.7L1095.1 1749L1095.5 1749.7L1096.1 1758L1097.5 1842.7L1098 1851.9L1099.8 1769.9L1100.7 1751.9L1101.2 1750.3L1102.3 1754.7L1103 1752.5L1104.1 1761.3L1105 1745.3L1105.5 1742.8L1106.8 1761.3L1107.1 1762.6L1108.2 1743.8L1108.5 1742.9L1109 1744.8L1110.1 1737.6L1110.6 1737.3L1111.4 1745.7L1113.3 1781.6L1114.9 1873.2L1115.4 1862.6L1116.4 1805.3L1116.7 1797.7L1117 1801.9L1118.4 1950.1L1119.1 1980.3L1119.6 1958.2L1121 1810.2L1121.5 1793.2L1121.9 1800.3L1122.9 1889.9L1124.2 2245.9L1124.7 2306.8L1125.1 2250.2L1126.7 1840.7L1127.4 1779.3L1127.7 1765L1128.3 1759.4L1128.8 1762.5L1129.3 1770.6L1129.8 1786.5L1131.5 1939.3L1131.7 1942.1L1132 1934.7L1133 1861L1133.4 1848.3L1134.7 1970.1L1135.2 1990.1L1135.7 1967.9L1137.3 1794.3L1138.2 1766.3L1138.7 1763.2L1139.2 1769.1L1140 1826.4L1141.9 2054.1L1142.4 2029.4L1143.6 1838.1L1144.3 1782.1L1144.9 1758.1L1145.6 1755.1L1145.9 1755.2L1146.4 1756.1L1147.8 1743.1L1149.2 1752L1150 1748.3L1150.7 1751.3L1152.6 1784L1152.7 1784.2L1152.9 1782.8L1154 1760.8L1154.2 1760.3L1154.3 1760.8L1154.5 1762.4L1154.8 1769.2L1155.8 1821.6L1157 2004.6L1157.5 2030.8L1158 1999.4L1159.3 1815L1159.8 1784.8L1160.2 1775.5L1161.7 1784.3L1161.8 1784.7L1162 1784.5L1162.1 1783.7L1162.5 1784.2L1162.6 1783.5L1163.6 1770.9L1165 1741.7L1166.5 1747.7L1167.9 1737.3L1169.3 1746L1170.4 1738L1170.6 1737.3L1170.9 1737.3L1172.2 1745.2L1173.3 1737.4L1174 1737.3L1175.4 1747.9L1176.3 1761.4L1177.1 1756.2L1177.3 1755.9L1177.5 1757.2L1178.6 1784.1L1178.7 1784.8L1178.9 1783.9L1179.5 1775.8L1180.7 1802.2L1182.2 1738.4L1182.9 1741.5L1183.7 1749.7L1184 1749.8L1184.3 1751.1L1184.8 1756.1L1186.6 1803.6L1187.2 1794.2L1188 1768L1188.9 1754.4L1189.1 1753.9L1189.4 1754.8L1190.2 1751.8L1190.9 1743.9L1191.3 1743L1191.8 1745.7L1193.1 1763.3L1194.2 1745.8L1194.5 1745.3L1195.2 1749.9L1195.5 1749.5L1195.6 1749.9L1196.4 1768.4L1197.4 1837.5L1197.9 1850.8L1198.5 1837.3L1199.6 1787.8L1200 1783.3L1200.3 1786.2L1201.4 1829.6L1202.3 1893.4L1202.8 1905.7L1204.7 1798.7L1204.9 1797.6L1205.2 1802.9L1206.7 1874.8L1208.6 1773.9L1208.9 1770.2L1209.2 1769.4L1209.5 1769.6L1209.8 1767.2L1210.6 1771.2L1211.9 1750L1212.1 1749.1L1212.2 1749L1212.4 1749.4L1213.8 1739.9L1216.2 1763.3L1217.8 1794.7L1218.1 1795.4L1219.3 1770.9L1219.6 1766.4L1219.7 1767.7L1221.8 1843.8L1222.3 1837.9L1223.4 1801.6L1223.7 1799.6L1224 1805L1224.7 1850.3L1226 2065L1226.4 2096.4L1228 1959.8L1229.1 2017.9L1229.3 2021.7L1229.5 2020.7L1229.6 2014.3L1231.1 1827.2L1231.9 1774.2L1233 1754.3L1233.9 1743.6L1235.4 1752.4L1236.3 1746.8L1236.8 1745.7L1238.2 1783.6L1239.2 1769.3L1239.4 1768L1239.5 1767.7L1239.7 1768.3L1240.8 1798.7L1241.1 1800.4L1241.7 1792.6L1242.2 1807L1244 2093.9L1244.5 2128L1244.9 2088.2L1246.4 1834.1L1247.2 1782.3L1248.3 1758.9L1249.2 1766.6L1250.2 1788.9L1251.8 1913.6L1252.3 1926.5L1252.8 1905.7L1254.2 1783.1L1255.1 1753.3L1255.6 1745.5L1256.3 1740.7L1257.2 1738.3L1258 1737.6L1259 1737.4L1271.4 1737.4L1272.9 1737.7L1273.7 1738.5L1274.6 1744L1275.6 1755.5L1275.7 1761L1277 1767.8L1277.8 1781L1278.4 1784.5L1279.2 1776.5L1280.2 1785.2L1280.4 1784.6L1281.5 1765.6L1282.3 1770.5L1282.4 1770.2L1283.2 1759.8L1283.7 1757.7L1284.7 1763.8L1285.1 1770.2L1286.6 1812.8L1287.1 1818.9L1288.5 1774.1L1289.1 1763.4L1289.4 1760.9L1289.9 1759.8L1291.4 1746.4L1292.8 1756.1L1294.2 1748.9L1295.3 1763L1296.3 1785.7L1297.9 1918.1L1298.4 1932L1298.9 1910.6L1300 1801.9L1300.8 1767.6L1302.8 1743.6L1304.3 1751.5L1305.7 1741.1L1307.2 1750.7L1308.6 1741.7L1310 1756.4L1310.5 1757.5L1310.8 1760.7L1311.5 1781L1313.9 2072.3L1314.3 2045.6L1315.6 1849.4L1316.6 1786.2L1316.7 1784.4L1317 1787.1L1317.4 1800.2L1319 1930.1L1319.1 1934.2L1319.3 1934.6L1319.4 1931.6L1320.4 1877.9L1320.7 1874.3L1322.5 1987.2L1322.9 1965.7L1324.4 1816.2L1324.9 1790.9L1325.2 1783.6L1325.3 1782.4L1325.5 1782.8L1326.1 1807.7L1326.8 1887.7L1328 2220.8L1328.7 2296.2L1330.1 2088.6L1330.3 2082L1330.4 2082.8L1331.4 2144.8L1331.9 2127L1333.2 1900.8L1334.1 1804.7L1334.6 1795L1335.9 1806.2L1337.3 1772.5L1337.6 1773.8L1338.7 1791.1L1340.2 1768.4L1341.6 1809.6L1343 1750.3L1343.5 1751.9L1345 1765.7L1345.4 1775.2L1347 1881.9L1347.7 1895.2L1348.1 1883.2L1349.7 1776.4L1350.5 1759.7L1351.7 1746.8L1352.3 1752.9L1353.4 1776.9L1354.7 1747.8L1354.8 1747.2L1355.2 1747.7L1356 1753.2L1356.1 1752.9L1356.3 1753.3L1357.7 1783.9L1358.7 1761.4L1359.3 1754.6L1360.7 1776.2L1362 1754.8L1363.1 1746.3L1365.5 1766.8L1366.7 1757.1L1367 1756L1367.4 1757.6L1368.9 1748.8L1370.3 1767.6L1371.8 1749.8L1372.7 1759.4L1373.8 1777L1375.6 1835.3L1376.1 1830.1L1377.5 1764.5L1378.1 1757.8L1378.5 1757.3L1378.9 1758.2L1380.4 1745.6L1381.8 1754.3L1383.2 1744.2L1384.2 1751.5L1385.2 1763.7L1386.3 1799.4L1386.6 1801.5L1387.2 1792.4L1387.4 1792L1387.7 1794.8L1388.7 1824.4L1389.3 1833.1L1389.8 1824.3L1391.1 1771L1391.9 1751.7L1392.2 1751.6L1392.5 1752.5L1393.3 1756.6L1394.7 1748L1396.6 1771.1L1397.3 1793L1399 2010.2L1399.5 2030.5L1401.3 1837.1L1402.9 1762L1403.3 1752.3L1403.7 1753.7L1404.9 1778.1L1406.2 1747.6L1406.4 1747.4L1406.7 1748.2L1407.6 1754.6L1409.1 1747.8L1409.7 1758.3L1410.2 1775.4L1413.4 1981.4L1413.6 1982.5L1413.7 1980.2L1414.5 1960.3L1415.6 1993.8L1416.6 1952.4L1416.9 1947.9L1417.1 1953.1L1418.8 2219.1L1419.3 2178.7L1420.7 1863.4L1421.4 1801.2L1421.8 1784L1422.3 1775.8L1422.8 1773.4L1423.4 1780.5L1424.2 1805.4L1424.7 1808.6L1426.3 1767.4L1426.6 1765.2L1426.8 1764.8L1427 1765L1427.1 1765.7L1428.1 1778.7L1428.4 1788.5L1429 1838.3L1430.6 2211.2L1431.1 2264L1431.6 2220.5L1432.9 1902.2L1433.7 1805.5L1434.3 1781.9L1435.1 1774.7L1436 1759.2L1437.8 1745.6L1438.8 1757.8L1440.2 1798.1L1441.3 1815.9L1442.3 1858.6L1442.7 1867.4L1444.8 1777.2L1445.6 1756.2L1447.2 1740.1L1447.7 1738.6L1448.5 1737.7L1449.9 1737.5L1451.4 1738L1452.3 1739.6L1453.7 1744.9L1454.4 1746.2L1455 1745.3L1456.8 1739.1L1457.6 1738L1458.5 1737.6L1462.2 1737.3L1467.1 1737.5L1468.1 1739L1469.4 1745.6L1469.5 1742.4L1470.8 1755.7L1471.1 1755.9L1471.5 1758L1471.9 1768.1L1473.7 1880.8L1474.5 1907.3L1475.1 1886.4L1477 1774.8L1477.5 1761.8L1478 1756.4L1478.8 1767.5L1480.1 1803.4L1480.5 1809.7L1480.7 1809.9L1480.9 1809.2L1481.2 1810.1L1481.7 1807.3L1482.9 1786.2L1483.1 1785.5L1483.3 1786.3L1483.6 1793.1L1486 1972.8L1487.7 1805.4L1488.2 1792.4L1488.8 1790.1L1489 1787.7L1490 1759.8L1490.4 1755.9L1490.9 1757.3L1492.4 1747.9L1493.8 1763.1L1494.4 1766.4L1494.7 1771.8L1495.4 1800.5L1496.8 1939.3L1497.3 1952.7L1499.2 1798.2L1500.2 1764.3L1501 1752.7L1501.3 1754.1L1502.4 1764L1502.9 1764.9L1503.2 1768L1503.8 1786.9L1504.6 1871.2L1505.8 2076.8L1506.2 2104.2L1507.7 1931.4L1507.8 1924.3L1508 1922.9L1508.1 1926.6L1509.1 1991L1509.4 1999.8L1509.7 1993.6L1511.7 1804L1512.5 1761.9L1512.8 1759.5L1512.9 1759.2L1513.3 1759.8L1513.9 1767L1514.5 1769.8L1515.6 1755.2L1515.8 1754.7L1516.1 1754.9L1516.8 1758.4L1517.7 1752.2L1518 1751.2L1518.2 1751.4L1519.6 1803.6L1521.1 1751.6L1521.5 1752.8L1522.5 1759.2L1523.9 1749.9L1525.5 1789.4L1526.8 1752.1L1527 1751.6L1527.3 1752.4L1528.2 1760.1L1528.9 1758.5L1529.2 1758.5L1529.5 1759.3L1530.3 1779.8L1531 1824.4L1532.6 2085.2L1533 2123.7L1533.5 2094.7L1535.1 1839.3L1535.6 1808.5L1536.4 1789L1536.7 1790.9L1537.2 1803.1L1538.6 1883.3L1538.9 1887.2L1539.6 1867.5L1541 1772.4L1541.3 1763.2L1541.8 1758.8L1542 1758.4L1542.1 1758.6L1542.3 1759.3L1542.8 1764.4L1543.9 1791.5L1545.2 1762.5L1545.3 1761.6L1545.5 1762.1L1545.6 1761.7L1545.8 1762.5L1546.8 1780L1547.2 1782L1548.3 1772.3L1549.8 1748.5L1550.4 1749.6L1551.2 1753.4L1552.7 1743.1L1554.1 1754.2L1554.6 1756L1555.2 1767L1555.7 1770.5L1556.6 1757L1558.4 1744.8L1559.8 1766.1L1561.3 1744.5L1562.7 1753.8L1563 1752.9L1563.3 1754.5L1564.6 1779.1L1565.9 1753.4L1566.4 1749.1L1566.7 1747.8L1567 1747.9L1568.1 1771.7L1568.4 1775.4L1568.8 1774.5L1569.1 1777.2L1569.6 1794.9L1571.2 1983.8L1571.6 2011.3L1572.1 1991.1L1573.7 1802.9L1574.3 1772.4L1575.1 1752.5L1575.6 1745.6L1576.4 1747.9L1577.1 1751.7L1577.4 1750.6L1578.2 1751.6L1578.5 1749.7L1578.7 1750L1578.8 1749.7L1579.3 1748.3L1579.6 1748.5L1579.9 1749.7L1581.4 1739.4L1582.8 1749.1L1584.2 1739.2L1585.7 1748.4L1587.1 1738.5L1588.1 1747.5L1589.2 1765.1L1589.5 1766.9L1590 1764.9L1590.1 1766.9L1590.9 1803L1591.7 1911.4L1592.9 2166L1593.3 2212.6L1593.8 2179.5L1595.1 1962.9L1595.6 1946.8L1596.5 1993.3L1596.7 1997.2L1596.8 1996.6L1597 1990.6L1598.3 1828.2L1598.9 1780.9L1599.2 1773.4L1599.4 1772.8L1599.6 1774.2L1600.2 1799.6L1601.3 1874.7L1602.3 1973.9L1602.7 1987.1L1603.2 1962.6L1604.8 1792.1L1605.5 1767.7L1607.2 1742.8L1608.6 1750.5L1610.1 1740.7L1611.5 1750.9L1613 1741.9L1614.5 1765.1L1615.8 1744.9L1617.3 1753.7L1618.7 1747.1L1619.7 1760.4L1620.6 1786.2L1622 1875.9L1622.5 1889.2L1623 1880.8L1624.3 1786.7L1624.9 1764.3L1625.4 1759L1625.9 1758.1L1627.3 1743.8L1628.7 1752.6L1630.2 1743.9L1631.6 1758.9L1632.3 1762.1L1632.9 1777.2L1634.2 1882L1635 1922.4L1635.4 1909.6L1637.2 1781.7L1637.8 1761.9L1638.6 1747.8L1638.8 1750.4L1640.1 1740.3L1641 1737.9L1641.8 1737.4L1643.6 1737.3L1651.4 1737.5L1652.5 1738.3L1653.1 1740.1L1654.6 1750.7L1654.7 1755.9L1655.5 1761.6L1656.8 1815L1657.1 1818.8L1658.7 1771.7L1659.4 1764.1L1659.8 1762.7L1660.8 1766.1L1663.2 1796.1L1663.8 1792.9L1664.6 1778.7L1665.3 1774.2L1665.6 1773.7L1665.8 1774.5L1666.5 1789.3L1667.7 1835.6L1669.3 2039.5L1669.7 2065.6L1670.2 2036.9L1671.5 1851.1L1672.3 1786.9L1673.2 1757.7L1673.6 1757L1673.9 1757.2L1674.7 1759.9L1675.2 1756.9L1675.3 1756.7L1675.5 1757L1676.8 1779.2L1676.9 1779.9L1677.2 1779.7L1677.4 1780.1L1677.9 1784.7L1678.7 1818.8L1680.6 2151.1L1681.1 2189.1L1681.5 2156.7L1682.8 1906.7L1683.5 1848.5L1684.4 1800.7L1684.7 1795.1L1685.1 1796.9L1685.4 1794.6L1686.5 1762.5L1687.1 1754.8L1687.6 1752.7L1688.1 1758.9L1688.9 1781.2L1691.3 1933.8L1691.4 1934.8L1691.6 1932.3L1691.9 1918L1693.2 1818.5L1693.5 1808.6L1693.8 1811.8L1696.1 2016.5L1696.5 1997.6L1698.1 1808.7L1698.8 1772.2L1699.4 1759.4L1699.9 1758.4L1700.5 1759.8L1702 1748.8L1703.7 1767.4L1704.2 1776.1L1704.8 1806.7L1706.3 1954L1706.7 1971.6L1707.4 1942.4L1708.8 1795.4L1709.6 1765.6L1710.6 1749.7L1712 1755.3L1713.4 1744.3L1714.9 1753.8L1716.3 1743.9L1717.8 1753.9L1718.4 1750.7L1718.7 1750.5L1718.9 1751L1720 1762.5L1720.6 1759.6L1721.4 1750.7L1722.1 1748.5L1723.2 1767L1723.5 1769.5L1724 1766.2L1724.3 1767.1L1724.8 1775.7L1726.5 1860.2L1727.2 1847.2L1728.6 1779.6L1729.7 1760.2L1730.7 1749.9L1732.1 1758.2L1733.5 1748.3L1735 1758L1736.4 1748.2L1737.9 1757.9L1738.8 1751.6L1739.3 1750.2L1740.7 1780.6L1742.2 1748.8L1743.6 1758.1L1745 1748.7L1746.5 1758.8L1747.9 1749.4L1749.3 1759.5L1749.5 1758.4" stroke="#000" stroke-width="4.3"/>
<path d="M154.3 1737.3L173.4 1737.3L181.6 1738.4L182.7 1739L186.7 1742L187.3 1743.4L190.2 1752.4L192.3 1764.6L193.9 1791.8L194 1800L195 1893.8L195.6 2019.9L197.4 2027.8L198.8 2045.6L200.6 2023.9L202.2 2030.7L202.3 2033.2L205.2 2170L206.5 1994.6L207.3 1803.3L208.4 1812.3L209.5 1848.8L210.5 1795.3L211.9 1769L213.2 1788.1L214.6 1764.2L216 1771L217.5 1759.1L218.9 1765.9L220.3 1752.5L221.8 1758.5L223.2 1748.2L224.6 1755.8L226.1 1745.2L227.5 1754.6L229 1746.5L230.4 1757L231.8 1748.6L233.3 1758.7L234.7 1750.7L236.1 1760.4L237.6 1750L239 1757.6L240.4 1746.9L241.9 1755.4L243.3 1745.4L244.7 1753.8L246.2 1743.8L247.6 1752.9L249.1 1744.4L250.5 1754.5L251.9 1746.1L253.4 1755.9L254.8 1747.1L256.2 1756.9L257.7 1748.4L259.1 1758.5L260.5 1749.9L262 1759.6L263.4 1750.5L264.8 1759.7L266.3 1750.5L267.7 1759.7L269.2 1750.5L270.6 1761.4L272 1754.5L273.5 1765.5L273.9 1764.2L274.9 1762.9L275.7 1773.3L277 1818.3L277.9 1902.1L279.4 1980.4L280.2 2064.2L281.4 1925.5L283.8 2166.8L286.4 1864.4L287.7 2031.1L288.3 2179.7L289.6 1991.7L290.8 1911.7L292.8 1957.4L294.2 2013.4L295.3 1965.3L295.5 1960.4L295.6 1964L296.9 2115.1L298.3 1940.2L299.3 2054L299.9 2199.2L301.1 2037.9L302.3 1985.6L303.3 1896.6L304.4 1851L305.7 2027.2L306.3 2191.6L307.1 2278.5L308.1 2110L308.6 1855.2L309.2 1742.1L310 1744.8L311.1 1780.9L312.2 1755.9L313.5 1746.8L314 1744.7L317.6 1739.3L323.4 1737.3L356.6 1737.3L359.4 1738.5L360.9 1780.2L362.2 1906.8L363.3 1798.3L364.4 1766.9L365.7 1756.2L366.3 1744L367.3 1799.6L368.4 2021.8L369.2 1909.9L370 1864.8L370.1 1875.7L371.7 2150.3L373 1858.5L374.3 1766.9L375.6 1782.8L376.4 1814.3L377.5 1945.2L378.6 2178.9L379.5 1914.1L380.5 1792.5L381.5 1858.6L382.3 1965L383.1 1852.5L383.8 1796.3L384 1799.6L385.4 1892L386.7 2010.9L388.2 1863L389.8 1774.7L389.9 1768.6L390.1 1770.7L391.2 1891.7L392.3 2113.7L393.4 1876.6L395 1749.8L396.6 1908.5L398 2180.6L399 1936.2L400.3 1806.6L401.6 1875.1L402.5 1967L404.1 1826.3L405.9 1768L407.5 1939.4L408.9 2208.6L410.2 1868.2L411.8 1755.1L413.2 1768.1L414.5 1794.5L415.8 1767L417.3 1761.8L418.3 1760.4L418.5 1755.6L419.9 1762.6L421.3 1751.1L422.8 1759.2L424.2 1748.3L425.6 1756L427.1 1746.1L428.5 1754.3L430 1744L431.4 1752.4L432.8 1743.6L434.3 1753.9L435.7 1745.7L437.1 1755.7L438.6 1747.7L440 1758.6L441.4 1750.6L442.9 1762.9L443.5 1760.4L443.7 1760.2L444.1 1760.9L445.6 1778.2L446.9 1822.2L448.3 1772.5L450.5 1754.8L451 1752.1L451.2 1752.8L452.6 1801.3L453.9 1933L455.2 1802L456.6 1755.7L457.9 1864.7L458.8 2081.6L460.3 1825L461.7 1760.6L462.7 1775L463.3 1794.4L464.1 1767.7L465 1750.9L466.5 1863.1L468.1 2166.7L469.7 1828.8L471.1 1751.7L472.7 1818.6L474.1 1955.2L475.4 1815.6L476.8 1770.5L477.2 1763.9L477.3 1766.7L479.1 1865L480.5 2012.3L482.4 1827L484 1775.3L484.5 1768L486.3 1867.5L487.7 2105.4L489.1 1855.3L490.4 1798.6L491.5 1768.4L492.8 1749.8L494.6 1865L496.2 2146.3L497.4 1832.5L498.9 1743.7L500.6 1798.1L501.9 1908.2L503.2 1787.2L504.3 1741L504.4 1737.3L505.6 1749L506.7 1771.7L507.6 1750.6L508.6 1737.4L509.9 1838.2L511.1 2025.1L512.4 1829.7L514.5 1748.7L517 1739.2L517.8 1737.3L528.9 1737.3L530.3 1740.2L531.7 1748.6L533 1740.3L534.3 1737.5L534.4 1737.3L538.6 1737.3L540 1840.3L541.3 1768.8L542.9 1747L543.2 1743.9L543.4 1744.4L544.8 1830.2L546.1 1995.1L547.4 1818L548.8 1745.4L549 1743.4L549.1 1744.4L551 1760L552.5 1751.8L553.9 1748.9L554.4 1754.2L554.9 1780.5L555.3 1779.6L555.7 1782.1L556.1 1806.3L558 2144.7L558.5 2099.5L559.6 1852.6L560.4 1785.2L560.9 1778L561.6 1780.4L562 1779.6L562.8 1793.8L563.8 1801.2L565.5 1953L566 1931.9L567.6 1771.3L568.3 1759L568.4 1758.4L568.7 1758.4L569.2 1760L570.5 1752.7L571 1757.5L571.4 1769.2L572.1 1804.9L573.8 2013.8L574.3 1988.6L575.4 1825.8L576.2 1766L576.7 1756.6L577.2 1755.1L577.8 1756.5L578.6 1750.5L579.3 1748.3L579.9 1760.5L581.3 1839.8L582.6 2065.4L583.1 2096.9L585 1792L585.6 1765.7L587.9 1744.3L588.5 1756L589.3 1786.7L589.5 1788L589.6 1786.9L590.7 1758.1L591.4 1776.8L592 1836.9L593.1 2054.2L593.6 2091.9L595.4 1834.9L596.3 1768L597 1753.1L597.1 1752.3L597.4 1752.3L597.9 1754.2L598.6 1750.2L599 1749L599.4 1750.1L599.5 1753.7L601.6 1857.7L602.1 1844.9L603.3 1774L604.1 1755.6L605.1 1744.9L606.5 1764.4L608 1744.7L609.4 1754.6L610.8 1747.9L611.8 1762.9L613.2 1799.8L614 1808.2L614.5 1802.7L615.8 1770.5L616.6 1764.8L616.9 1764.1L617.7 1757.2L618 1757.7L618.2 1757.1L618.3 1757.3L618.5 1758.4L619.1 1769.2L619.6 1771.8L620.6 1757.4L622.3 1744.7L623.8 1755.2L624.6 1751.5L625.2 1750L626.8 1789.1L628.1 1755.5L629.4 1785.4L630.1 1764.6L630.6 1759.7L631.3 1779.9L632.5 1880.5L633 1890.7L634.8 1785.1L635.1 1779.1L635.7 1776.6L636.1 1773.1L636.8 1755L637 1754.2L637.2 1754.6L637.3 1756.4L638.3 1786.4L638.8 1791.6L640.4 1756.1L640.7 1755.1L641 1756.9L641.3 1756L641.6 1756.2L642.4 1759.9L644.2 1803.4L644.5 1800.3L645.3 1770.6L645.5 1769.3L645.6 1770L646.1 1786.3L646.6 1829.2L647.9 2067.2L648.3 2110L650.6 1784.3L651.2 1761L651.7 1758.4L652 1758.5L652.5 1760.3L653.4 1755.3L653.8 1755.3L653.9 1755.9L654.1 1759.2L654.7 1782.3L656.6 1944.6L657.1 1925.6L658.4 1799.6L659.3 1759.4L659.7 1753.9L660 1753.9L660.3 1754.7L661.1 1758.2L661.7 1753.8L662.1 1753L662.2 1753.5L663.6 1789.8L664.6 1769.4L664.8 1768.4L664.9 1768.9L665.1 1771L665.9 1819.5L667 1978.2L667.5 2011.3L668 1984.2L669.1 1827L670 1772.5L671.1 1752.2L672.6 1758.2L674 1748.4L675.5 1763.7L676.1 1767.2L676.7 1785.4L677 1810L678.5 2053.8L679 2081.4L680.4 1872.9L681.8 1773.7L682.6 1750.3L682.9 1750.2L683.3 1751L684.1 1754.6L685.5 1744.1L686.9 1756.4L687.3 1755.7L687.6 1755.6L688.1 1758L688.7 1777.9L690.8 2027.4L691.2 2003.6L692.7 1804.1L693.3 1766.2L694.1 1748L694.4 1747.9L694.8 1748.6L695.6 1752.3L696.2 1750L696.7 1753.4L699.4 1826.3L701.8 1754L702.3 1746.5L702.4 1747.1L704 1738.4L704.6 1737.6L705.4 1737.4L711.8 1737.3L712.9 1737.7L713.6 1739L715 1747.2L716.8 1774.4L718 1757.3L719.2 1761L720 1771.3L720.9 1795.6L721.4 1798.5L722.8 1761.8L723.5 1758.6L724.3 1760.7L725.7 1749.4L727.1 1758.9L727.6 1757.7L727.9 1760.3L728.9 1790.5L729.2 1793.6L730.6 1757.1L730.8 1756.7L731.1 1758.9L732.1 1773.8L733.4 1756.7L733.8 1753.6L734.3 1752.4L735.4 1773.7L736.2 1815.7L738 2060.5L738.5 2035.7L740.1 1795.3L740.7 1771.1L741 1767.2L741.5 1765.5L742.6 1752.9L742.9 1750.2L743.4 1754.8L744.7 1785.5L745.8 1762.3L746.3 1768.6L746.9 1800.3L748.2 1922.5L748.7 1938.9L750.4 1806.2L751.5 1762.6L752.3 1754.5L752.7 1754.7L753 1756.3L753.5 1755.1L753.8 1756.9L754.4 1766L755.5 1795.8L756.8 1755.1L757.3 1749.4L757.6 1753L758.4 1771.4L759 1806L760.8 2011.2L761.3 1986.2L762.5 1810.2L763.2 1769.2L763.7 1761.4L764 1760L764.1 1759.8L764.5 1760.1L765.9 1747.2L767.3 1757.8L767.7 1757.3L768 1759.2L770 1798.7L771.2 1765.5L771.6 1760.1L772.4 1784.8L772.9 1822.4L774.7 2066.6L775.2 2038L776.9 1787.5L777.5 1763.6L778 1760.6L778.3 1760.4L778.8 1761.6L779.6 1755.3L780.3 1752.7L781.1 1767.1L781.5 1785.9L783.3 1908.5L783.8 1893.5L785.4 1774.2L786 1758.8L786.5 1761.3L787 1768.5L787.9 1807.7L789 1926.6L789.5 1945.8L791.1 1795.9L791.6 1769.7L792.1 1760.3L792.5 1758.9L793.2 1760.4L794.6 1748.3L796 1757.7L796.5 1755.5L796.8 1755.9L798.3 1792.4L800.8 1754.6L801.3 1752.7L801.8 1754.1L803.2 1742.7L804.7 1752.3L806.1 1742.8L806.9 1749.2L807.9 1764.4L808.3 1768.1L809 1756.3L809.6 1750.4L809.9 1750.7L810.4 1753.4L811.8 1743.9L813.3 1754.5L814.1 1750.6L814.7 1749.3L815.8 1781.1L817.7 1928L818.2 1910.3L819.8 1774.5L820.3 1765.7L821.3 1782.6L822.5 1750.6L823.3 1744.2L824.4 1761.4L825.2 1790.4L826.8 1992.5L827.3 2013.9L828 1969.4L829.4 1798.3L830.2 1763.5L830.3 1763.1L831.3 1766.3L832.3 1752.1L832.7 1749.5L833.4 1754.6L834.2 1758.2L834.8 1752.2L835.5 1749.9L836.2 1754.6L836.7 1753.4L837 1753.6L837.5 1757.2L838.3 1794.3L839.6 1917.6L840.1 1931.7L841.5 1819.6L843.4 1747.3L843.6 1746.8L843.9 1746.9L844.9 1751.2L846.3 1740.5L847.7 1750.1L849.2 1741L850.6 1754.3L851.1 1753.9L851.6 1755.8L852 1763.6L852.7 1805.5L854 1978.5L854.4 2008.6L854.9 1980.9L856.2 1812.1L857.3 1757.5L857.8 1749.3L858.4 1750.6L859.2 1754.5L860.7 1744.7L862.1 1755.5L863.5 1746.9L865 1758.8L865.8 1754.8L866.4 1753.2L867.4 1771.9L868.2 1814.6L869.6 2022L870.1 2045.4L871.8 1809.8L872.1 1783.4L872.8 1765.6L872.9 1764.9L873.3 1767.7L874.1 1781.8L874.4 1779.8L875.2 1755.8L875.6 1751.7L876.4 1756.1L876.6 1755.7L876.8 1755.9L876.9 1756.8L878 1773.2L878.2 1773.4L878.4 1772L879 1761.4L880 1754.7L880.6 1759L881.2 1769.3L881.4 1769.9L882 1767.4L882.3 1769.3L883.5 1816.4L883.9 1821.5L884.6 1816.4L885.2 1820.1L886.7 1860.4L887.1 1852.1L888.9 1764.2L890 1746L890.6 1740.7L891.4 1739L891.9 1739.4L892.4 1740.6L894.2 1755L894.8 1757.3L895.3 1755.1L896.7 1742.2L897.3 1739.4L898 1738.3L899.1 1737.6L901.2 1737.3L909.5 1737.3L910.7 1737.7L911.5 1739.8L912.7 1745.7L912.8 1744.5L913.8 1751.7L915.2 1742.1L916.6 1756.2L917.1 1756.8L917.4 1758.8L918.1 1773.1L918.9 1854.2L920.2 2117.7L920.6 2147.8L922.1 1925.7L923.3 1805.8L923.8 1784.6L924 1784.3L924.1 1785.4L924.8 1792.9L925.1 1794.4L925.3 1794.1L926.9 1757.2L927.2 1756.5L927.5 1758.7L928.6 1785.6L928.8 1786.6L928.9 1785.9L929.6 1778.9L929.7 1782.3L931 1883.8L931.8 1923.5L932.3 1908.5L933.6 1787.8L934.2 1764.5L935 1751.2L935.3 1747.6L936.7 1753.7L938.2 1742.3L939.6 1751.2L940.3 1748.9L941.1 1750.6L941.5 1752.8L942.2 1750.1L942.5 1750L943.9 1737.9L945.4 1749.1L946.2 1745.7L946.8 1744.2L947.9 1766.3L948.6 1798.9L950 1997.2L950.5 2030.7L950.9 2007.9L952.5 1790.7L953.2 1765.6L955.4 1743.4L956.8 1751.9L958.3 1741.9L959.7 1751.7L961.2 1743.3L963.1 1768.3L964 1825.2L965.8 2019.3L966.3 1997.9L967.7 1826.3L968 1821.1L968.5 1841.4L969.6 1950.5L970.1 1963.4L971.8 1793.8L972.5 1761.1L973 1753.9L973.1 1753.4L973.4 1753.4L974.1 1756L974.6 1754.6L975.2 1755.7L975.5 1754.3L976 1757.1L977.1 1786L977.4 1783.1L978.4 1750.8L978.5 1750L978.9 1751.7L980.1 1787L980.3 1788L980.5 1787.1L981.1 1775.2L981.3 1774.1L981.4 1777L982.7 1836.6L983 1840.3L984.1 1815L984.9 1805.7L987 1749.5L987.5 1750.8L988.4 1756.4L989.4 1750L989.9 1749L990.7 1762.1L991.1 1764.5L992.7 1745.4L993.7 1752.8L995.1 1773.4L995.3 1773.8L995.6 1771.9L995.9 1772.1L996.1 1771.5L997.4 1758.7L998.6 1779.7L999.8 1760.6L1001.4 1747.6L1002.8 1759.1L1003.7 1755.1L1004.1 1754.5L1004.2 1754.7L1005 1777.8L1007.1 1889.6L1007.6 1900.3L1008.4 1875.2L1009.8 1781.8L1010 1779.2L1010.6 1789.4L1010.8 1790.1L1010.9 1788.8L1012 1757.4L1012.8 1748.5L1014.3 1760.6L1014.6 1760.5L1014.8 1760.9L1015.1 1762.6L1015.5 1768.4L1017.1 1813.1L1017.6 1808.8L1018.6 1787.5L1018.7 1787L1018.9 1787.4L1019.1 1789L1019.5 1804.7L1020.3 1889.7L1021.5 2143.7L1021.9 2191.9L1022.4 2148.1L1024.2 1802.9L1025 1769.2L1025.8 1763.3L1027.2 1746.4L1028.6 1754.4L1030.1 1744.9L1031.5 1759.7L1032.1 1763L1032.6 1773.4L1033.3 1817.8L1034.5 2005L1035 2033.6L1035.5 2002.6L1036.8 1821.4L1037.4 1782.1L1038 1765L1038.5 1760.7L1038.8 1763.2L1039.6 1795.1L1041.2 1983.6L1041.7 2005.7L1043.5 1812.1L1044.4 1760.7L1044.9 1757.5L1045.2 1757.4L1045.5 1758.4L1046.2 1761.5L1047.1 1772.2L1048.3 1762.9L1049.4 1784.3L1050.6 1756L1051 1755.2L1051.6 1759.8L1051.9 1759.6L1052.2 1761.4L1053 1777.1L1054 1818.8L1055.4 2006.7L1055.9 2033.5L1057.2 1874L1057.8 1828.4L1058.1 1824.6L1058.8 1826.3L1059.1 1837.6L1060.4 1973.6L1060.9 1995.8L1062.8 1809.2L1063.2 1799.3L1063.4 1798.6L1064 1801.4L1064.2 1801.2L1064.7 1795.4L1065.6 1765.8L1066.4 1754.8L1066.8 1754.4L1066.9 1755L1067.2 1758.4L1067.7 1776.3L1069.3 1921.6L1069.8 1936L1071.9 1774.8L1072.5 1753.4L1073.8 1740.9L1074.4 1738.8L1075.4 1737.7L1077.4 1737.5L1079.2 1738.2L1080.2 1740.4L1081.6 1748.6L1082.2 1750.4L1082.9 1748.5L1084.5 1739.8L1085.1 1738.4L1085.9 1737.8L1089.2 1737.3L1091.5 1737.4L1092.4 1737.7L1093.4 1739.4L1094.5 1744.3L1094.7 1749.9L1095.1 1749.2L1095.5 1750L1096.1 1758.8L1097.5 1846.4L1098 1856.1L1099.8 1771.1L1100.7 1752.2L1101.2 1750.5L1102.3 1754.7L1103 1752.5L1104.1 1761.3L1105 1745.3L1105.5 1742.8L1106.8 1761.3L1107.1 1762.6L1108.2 1743.8L1108.5 1742.9L1109 1744.9L1110.1 1737.8L1110.5 1737.3L1111.6 1749.4L1113.3 1791.4L1114.5 1883.7L1114.9 1902.8L1115.4 1893.2L1116.5 1813.1L1116.8 1807.5L1117 1810.2L1118.6 1978.5L1119.1 1997L1119.6 1973.6L1121 1814L1121.5 1795.1L1121.9 1801.3L1122.9 1890.2L1124.2 2245.9L1124.7 2306.8L1125.1 2250.2L1126.7 1840.7L1127.4 1779.3L1127.7 1765L1128.3 1759.4L1128.8 1762.5L1129.3 1770.6L1129.8 1786.6L1131.5 1939.6L1131.7 1942.4L1132 1935.1L1133 1862.6L1133.4 1851.5L1134.7 1982.1L1135.2 2003.9L1135.7 1980.9L1137.3 1797.1L1138.2 1767.7L1138.7 1764.8L1139.2 1771.4L1140 1833L1141.9 2087.4L1142.4 2060L1143.3 1891.8L1144.3 1785.8L1144.9 1759.7L1145.6 1755.9L1145.9 1755.7L1146.4 1756.5L1147.8 1743.2L1149.2 1752L1150 1748.3L1150.7 1751.3L1152.6 1784L1152.7 1784.2L1152.9 1782.8L1154 1760.8L1154.2 1760.3L1154.3 1760.8L1154.5 1762.4L1154.8 1769.2L1155.8 1821.6L1157 2004.6L1157.5 2030.8L1158 1999.4L1159.3 1815L1159.8 1784.8L1160.2 1775.5L1161.7 1784.3L1161.8 1784.7L1162 1784.5L1162.1 1783.7L1162.5 1784.2L1162.6 1783.5L1163.6 1770.9L1165 1741.7L1166.5 1747.7L1167.9 1737.3L1169.3 1746L1170.4 1738L1170.6 1737.3L1170.9 1737.3L1172.2 1745.2L1173.3 1737.4L1174 1737.3L1175.4 1747.9L1176.3 1761.4L1177.1 1756.2L1177.3 1755.9L1177.5 1757.2L1178.6 1784.1L1178.7 1784.8L1178.9 1783.9L1179.5 1775.8L1180.7 1802.2L1181.8 1750.8L1182.4 1738.6L1183.7 1749.7L1184 1749.8L1184.3 1751.1L1184.8 1756.1L1186.6 1803.6L1187 1797.9L1188 1768L1188.8 1755.5L1189.1 1753.9L1189.4 1754.8L1190.2 1751.8L1190.9 1743.9L1191.3 1743L1191.8 1745.7L1193.1 1763.4L1193.9 1749.3L1194.2 1746.2L1194.4 1745.7L1194.5 1745.8L1195.2 1751L1195.5 1751.1L1195.6 1751.9L1196.1 1760.4L1197.4 1856.3L1198 1877.6L1198.7 1857.4L1199.6 1801.2L1200.1 1791.6L1200.4 1795.9L1201.4 1834.8L1202.3 1902.4L1202.8 1915.4L1204.7 1805.7L1205.2 1813.8L1206.2 1881.7L1206.7 1895.1L1207.1 1881.2L1208.1 1800.6L1208.7 1775.8L1209.8 1768.2L1210.6 1771.6L1211.9 1750.1L1212.1 1749.2L1212.2 1749L1212.4 1749.4L1213.8 1739.9L1216.2 1763.3L1217.8 1794.7L1218.1 1795.4L1219.3 1770.9L1219.6 1766.4L1219.7 1767.7L1221.8 1843.7L1222.3 1837.7L1223.4 1801L1223.7 1798.7L1224 1803.4L1224.7 1846.5L1226 2053.2L1226.4 2083.9L1227.9 1966.6L1228 1964.8L1228.3 1976.7L1229.1 2038.3L1229.3 2043.1L1229.5 2042.3L1229.6 2035.7L1231.1 1834.3L1231.9 1776.5L1233 1754.9L1233.9 1743.8L1235.4 1752.4L1236.3 1746.8L1236.8 1745.7L1238.2 1783.6L1239.2 1769.3L1239.4 1768L1239.5 1767.7L1239.7 1768.3L1240.8 1798.7L1241.1 1800.4L1241.7 1792.6L1242.2 1807L1244 2093.9L1244.5 2128L1244.9 2088.2L1246.4 1834.1L1247.2 1782.4L1248.3 1759L1249.2 1767L1250.2 1790.3L1251.8 1920L1252.3 1933.4L1252.8 1911.7L1254.2 1784.5L1255.1 1753.7L1255.6 1745.7L1256.3 1740.8L1257.2 1738.3L1258 1737.6L1259 1737.4L1271.4 1737.4L1272.9 1737.7L1273.7 1738.5L1274.6 1744L1275.6 1755.5L1275.7 1761L1277 1767.8L1277.8 1781L1278.4 1784.5L1279.2 1776.5L1280.2 1785.2L1280.4 1784.6L1281.5 1765.6L1282.3 1770.5L1282.4 1770.2L1283.2 1759.8L1283.7 1757.7L1284.7 1763.8L1285.1 1770.2L1286.6 1812.8L1287.1 1818.9L1288.5 1774.1L1289.1 1763.4L1289.4 1760.9L1289.9 1759.8L1291.4 1746.4L1292.8 1756.2L1294.2 1749.4L1295.3 1764.6L1296.3 1791.8L1297.9 1947.5L1298.4 1963.9L1298.9 1938.9L1300 1812.1L1300.8 1770.9L1302.8 1743.9L1304.3 1751.6L1305.7 1741.1L1307.2 1750.7L1308.6 1741.8L1310 1757L1310.5 1758.5L1310.8 1762.2L1311.5 1784.3L1313.9 2102.9L1314.3 2073.6L1315.6 1858.3L1316.6 1788.6L1316.7 1786.3L1317 1788.4L1317.4 1801.2L1319.1 1934.9L1319.6 1926.5L1320.6 1878L1320.9 1883L1322.5 2003.8L1322.9 1981L1324.4 1820.1L1324.9 1792.8L1325.2 1784.9L1325.5 1783.6L1326.1 1808L1326.8 1887.5L1328 2219.7L1328.7 2296.5L1330.1 2112.9L1330.3 2111.8L1330.4 2118.6L1331.4 2211.9L1331.6 2214.2L1331.7 2208.6L1331.9 2194.8L1333.3 1898.3L1334.3 1804.8L1334.6 1798.9L1335.9 1807.2L1337.3 1772.7L1337.6 1773.9L1338.7 1791.2L1340.2 1768.4L1341.6 1809.6L1343 1750.4L1343.5 1752.1L1345 1766.6L1345.4 1777L1346.9 1879.5L1347.4 1901.7L1347.7 1904.8L1348.3 1882.8L1349.7 1777.8L1350.5 1760.2L1351.7 1746.9L1352.3 1752.9L1353.4 1776.9L1354.7 1747.8L1354.8 1747.2L1355.2 1747.7L1356 1753.2L1356.1 1752.9L1356.3 1753.3L1357.7 1783.9L1358.7 1761.4L1359.3 1754.6L1360.7 1776.2L1362 1754.8L1363.1 1746.3L1365.5 1766.8L1366.7 1757.1L1367 1756L1367.4 1757.6L1368.9 1748.8L1370.3 1767.6L1371.8 1749.8L1372.7 1759.4L1373.8 1777L1375.6 1835.3L1376.1 1830.1L1377.2 1776.3L1377.8 1759.9L1378.3 1757.3L1378.6 1757.4L1378.9 1758.2L1380.4 1745.6L1381.8 1754.3L1383.2 1744.3L1385 1760.9L1386.4 1803.3L1386.6 1803.7L1387.2 1797.9L1387.4 1798.8L1388.8 1851.7L1389.3 1858L1391.7 1756.8L1391.9 1753.6L1392.2 1753L1393.3 1757L1394.7 1748.3L1396.6 1772.7L1397.3 1797L1399 2033.3L1399.5 2055.4L1401.3 1843.7L1402.7 1768L1403.5 1753.1L1404.9 1778.2L1406.2 1747.6L1406.4 1747.4L1406.7 1748.2L1407.6 1754.6L1409.1 1747.9L1409.7 1758.3L1410.2 1775.5L1413.4 1985L1413.6 1987L1413.7 1985.8L1414.2 1974L1414.3 1972.5L1414.5 1974.1L1415.6 2016L1416.7 1960.3L1416.9 1958.3L1417.1 1961.7L1418.8 2219.2L1419.3 2178.5L1420.7 1863.3L1421.4 1801.1L1421.8 1784L1422.3 1775.8L1422.8 1773.3L1423.4 1780.5L1424.2 1805.4L1424.7 1808.6L1426.3 1767.4L1426.6 1765.2L1426.8 1764.8L1427 1765L1427.1 1765.7L1428.1 1778.7L1428.4 1788.5L1429 1838.3L1430.6 2211.2L1431.1 2264L1431.6 2220.5L1432.9 1902.2L1433.7 1805.5L1434.3 1781.9L1435.1 1774.7L1436 1759.2L1437.8 1745.7L1438.8 1757.9L1440.2 1798.6L1441.3 1818.2L1442.3 1863.6L1442.7 1873L1443.2 1860.5L1444.8 1778.3L1445.6 1756.6L1447.2 1740.2L1447.7 1738.6L1448.5 1737.7L1449.9 1737.5L1451.4 1738L1452.3 1739.6L1453.7 1744.9L1454.4 1746.2L1455 1745.3L1456.8 1739.1L1457.6 1738L1458.5 1737.6L1462.2 1737.3L1467.1 1737.5L1468.1 1739L1469.4 1745.6L1469.5 1742.4L1470.8 1755.7L1471.1 1755.9L1471.5 1758L1471.9 1768.1L1473.7 1880.9L1474.5 1907.3L1475.1 1886.3L1477 1774.8L1477.5 1761.8L1478 1756.5L1479 1773.4L1480.4 1837.3L1481 1848.8L1481.2 1849.1L1481.3 1847.8L1481.7 1840.6L1482.9 1793.2L1483.3 1791.4L1483.6 1798.3L1485.5 1979L1486 2001.8L1487.9 1804.8L1488.2 1796.1L1489 1789.1L1490.1 1758L1490.4 1756.2L1490.9 1757.5L1492.4 1748.3L1494.4 1769.8L1495.1 1790.1L1496.7 1969.8L1497.3 2001.2L1499.4 1799.2L1500.3 1763.6L1501 1753.8L1501.4 1755.7L1502.4 1763.8L1502.7 1763.9L1502.9 1764.4L1503.2 1767.1L1504 1795.4L1505.8 2062.2L1506.2 2089L1507.8 1924.1L1508.3 1939.8L1509.1 2003.3L1509.4 2013L1509.7 2006.6L1511.7 1806.2L1512.5 1762.6L1512.8 1760L1512.9 1759.6L1513.3 1760.1L1513.9 1767.2L1514.5 1769.9L1515.6 1755.2L1515.8 1754.7L1516.1 1754.9L1516.8 1758.4L1517.7 1752.2L1518 1751.2L1518.2 1751.4L1519.6 1803.6L1521.1 1751.6L1521.5 1752.8L1522.5 1759.2L1523.9 1749.9L1525.5 1789.4L1526.8 1752.1L1527 1751.6L1527.3 1752.4L1528.2 1760.1L1528.9 1758.5L1529.2 1758.5L1529.5 1759.3L1530.3 1779.8L1531 1824.4L1532.6 2085.2L1533 2123.7L1533.5 2094.8L1535.1 1839.5L1535.6 1808.9L1536.4 1789.9L1536.7 1792.2L1537.2 1805.7L1538.5 1885.1L1538.9 1895.6L1539.6 1874.4L1541 1774L1541.3 1764.2L1541.8 1759.3L1542.1 1759L1542.3 1759.6L1542.8 1764.6L1543.9 1791.5L1545.2 1762.5L1545.3 1761.6L1545.5 1762.1L1545.6 1761.7L1545.8 1762.5L1546.8 1780L1547.2 1782L1548.3 1772.3L1549.8 1748.5L1550.4 1749.6L1551.2 1753.4L1552.7 1743.1L1554.1 1754.2L1554.6 1756L1555.2 1767L1555.7 1770.5L1556.6 1757L1558.4 1744.8L1559.8 1766.1L1561.3 1744.5L1562.7 1753.8L1563 1752.9L1563.3 1754.5L1564.6 1779.1L1565.9 1753.4L1566.4 1749.1L1566.7 1747.9L1567 1748L1568.1 1771.8L1568.4 1775.6L1568.8 1774.8L1569.1 1777.6L1569.6 1795.7L1571.2 1987.5L1571.6 2015.4L1572.1 1995L1573.7 1803.7L1574.3 1772.8L1575.1 1752.7L1575.6 1745.7L1576.4 1747.9L1577.1 1751.7L1577.4 1750.7L1578.2 1751.6L1578.5 1749.7L1578.7 1750L1578.8 1749.7L1579.3 1748.3L1579.6 1748.5L1579.9 1749.7L1581.4 1739.4L1582.8 1749.1L1584.2 1739.2L1585.7 1748.4L1587.1 1738.5L1588.1 1747.4L1589.2 1765.1L1589.5 1766.9L1590 1764.9L1590.1 1766.9L1590.9 1802.9L1591.7 1911.1L1592.9 2165.5L1593.3 2212.6L1593.8 2180.9L1595.1 1977.9L1595.2 1970.2L1595.4 1968.5L1595.6 1971.9L1596.5 2034.5L1596.7 2038.8L1596.8 2037.8L1597 2030.5L1598.4 1824.1L1599.1 1781.9L1599.4 1776.8L1599.7 1780.9L1600.3 1811.8L1602.3 1987.7L1602.7 2002.4L1603.2 1976.8L1604.8 1795.4L1605.5 1769L1607.2 1743L1608.6 1750.6L1610.1 1740.7L1611.5 1750.9L1613 1741.9L1614.5 1765.1L1615.8 1744.9L1617.3 1753.8L1618.7 1747.5L1619.7 1761.4L1620.6 1789.7L1622 1890.2L1622.5 1903.1L1623.2 1882.4L1624.3 1790.9L1624.9 1766.1L1627.3 1743.9L1628.7 1752.6L1630.2 1743.9L1631.6 1758.9L1632.3 1762.1L1632.9 1777.2L1634.2 1882L1635 1922.4L1635.4 1909.6L1637.2 1781.7L1637.8 1761.9L1638.6 1747.8L1638.8 1750.4L1640.1 1740.3L1640.5 1738.6L1641.2 1737.7L1642.1 1737.4L1644.4 1737.3L1651.6 1737.6L1652.5 1738.4L1653.1 1740.2L1654.6 1751.3L1654.7 1756.6L1655.5 1763.4L1656.8 1819.8L1657.1 1824.2L1658.9 1771L1659.5 1765.2L1660 1764.2L1660.3 1765.9L1660.5 1765.5L1660.6 1765.9L1661 1769.2L1661.8 1784L1663.2 1825.3L1663.5 1827.3L1664 1820.5L1665.1 1784.8L1665.8 1777.3L1666.5 1789.7L1667.7 1835.7L1669.3 2039.5L1669.7 2065.6L1670.2 2036.9L1671.5 1851.1L1672.3 1786.9L1673.2 1757.7L1673.6 1757L1673.9 1757.2L1674.7 1759.9L1675.2 1756.9L1675.3 1756.7L1675.5 1757L1676.8 1779.2L1676.9 1779.9L1677.2 1779.7L1677.4 1780.1L1677.9 1784.7L1678.7 1818.8L1680.6 2151.1L1681.1 2189.1L1681.5 2156.7L1682.8 1906.7L1683.5 1848.5L1684.4 1800.7L1684.7 1795.1L1685.1 1796.9L1685.4 1794.6L1686.5 1762.5L1687.1 1754.8L1687.6 1752.7L1688.1 1758.9L1688.9 1781.2L1691.3 1933.9L1691.4 1934.8L1691.6 1932.4L1691.9 1918.1L1693.2 1819L1693.5 1809.5L1693.8 1813.1L1696.1 2024.9L1696.5 2005.3L1698.1 1810.6L1698.8 1773L1699.4 1759.8L1699.9 1758.7L1700.5 1760L1702 1749L1703.7 1768.3L1704.2 1777.8L1704.8 1810.6L1706.3 1967L1706.7 1985.5L1707.4 1953.7L1708.8 1798L1709.6 1766.5L1710.6 1750L1712 1755.3L1713.4 1744.3L1714.9 1753.8L1716.3 1743.9L1717.8 1753.9L1718.4 1750.7L1718.7 1750.5L1718.9 1751L1720 1762.5L1720.6 1759.6L1721.4 1750.7L1722.1 1748.5L1723.2 1767L1723.5 1769.5L1724 1766.2L1724.3 1767.1L1724.8 1775.7L1726.5 1860.2L1727.2 1847.2L1728.6 1779.6L1729.7 1760.2L1730.7 1749.9L1732.1 1758.2L1733.5 1748.3L1735 1758L1736.4 1748.2L1737.9 1757.9L1738.8 1751.6L1739.3 1750.2L1740.7 1780.6L1742.2 1748.8L1743.6 1758.1L1745 1748.7L1746.5 1758.8L1747.9 1749.4L1749.3 1759.5L1749.5 1758.4" stroke="#f14040" stroke-width="2.1"/>
</g>
<rect x="153.9" y="1708.1" width="1596.7" height="606.2" fill="none" stroke="#000" stroke-width="4.3"/>
<line x1="153.9" y1="2314.3" x2="153.9" y2="2341.9" stroke="#000" stroke-width="4.4" stroke-linecap="butt"/>
<text transform="translate(153.9 2381.4) scale(1 1.045)" font-family="'Liberation Sans', Arial, Helvetica, sans-serif" font-size="38" text-anchor="middle" fill="#000">0</text>
<line x1="233.7" y1="2314.3" x2="233.7" y2="2328.8" stroke="#000" stroke-width="4.4" stroke-linecap="butt"/>
<line x1="313.6" y1="2314.3" x2="313.6" y2="2328.8" stroke="#000" stroke-width="4.4" stroke-linecap="butt"/>
<line x1="393.4" y1="2314.3" x2="393.4" y2="2328.8" stroke="#000" stroke-width="4.4" stroke-linecap="butt"/>
<line x1="473.2" y1="2314.3" x2="473.2" y2="2328.8" stroke="#000" stroke-width="4.4" stroke-linecap="butt"/>
<line x1="553.1" y1="2314.3" x2="553.1" y2="2341.9" stroke="#000" stroke-width="4.4" stroke-linecap="butt"/>
<text transform="translate(553.1 2381.4) scale(1 1.045)" font-family="'Liberation Sans', Arial, Helvetica, sans-serif" font-size="38" text-anchor="middle" fill="#000">5</text>
<line x1="632.9" y1="2314.3" x2="632.9" y2="2328.8" stroke="#000" stroke-width="4.4" stroke-linecap="butt"/>
<line x1="712.7" y1="2314.3" x2="712.7" y2="2328.8" stroke="#000" stroke-width="4.4" stroke-linecap="butt"/>
<line x1="792.6" y1="2314.3" x2="792.6" y2="2328.8" stroke="#000" stroke-width="4.4" stroke-linecap="butt"/>
<line x1="872.4" y1="2314.3" x2="872.4" y2="2328.8" stroke="#000" stroke-width="4.4" stroke-linecap="butt"/>
<line x1="952.2" y1="2314.3" x2="952.2" y2="2341.9" stroke="#000" stroke-width="4.4" stroke-linecap="butt"/>
<text transform="translate(952.2 2381.4) scale(1 1.045)" font-family="'Liberation Sans', Arial, Helvetica, sans-serif" font-size="38" text-anchor="middle" fill="#000">10</text>
<line x1="1032.1" y1="2314.3" x2="1032.1" y2="2328.8" stroke="#000" stroke-width="4.4" stroke-linecap="butt"/>
<line x1="1111.9" y1="2314.3" x2="1111.9" y2="2328.8" stroke="#000" stroke-width="4.4" stroke-linecap="butt"/>
<line x1="1191.8" y1="2314.3" x2="1191.8" y2="2328.8" stroke="#000" stroke-width="4.4" stroke-linecap="butt"/>
<line x1="1271.6" y1="2314.3" x2="1271.6" y2="2328.8" stroke="#000" stroke-width="4.4" stroke-linecap="butt"/>
<line x1="1351.4" y1="2314.3" x2="1351.4" y2="2341.9" stroke="#000" stroke-width="4.4" stroke-linecap="butt"/>
<text transform="translate(1351.4 2381.4) scale(1 1.045)" font-family="'Liberation Sans', Arial, Helvetica, sans-serif" font-size="38" text-anchor="middle" fill="#000">15</text>
<line x1="1431.3" y1="2314.3" x2="1431.3" y2="2328.8" stroke="#000" stroke-width="4.4" stroke-linecap="butt"/>
<line x1="1511.1" y1="2314.3" x2="1511.1" y2="2328.8" stroke="#000" stroke-width="4.4" stroke-linecap="butt"/>
<line x1="1590.9" y1="2314.3" x2="1590.9" y2="2328.8" stroke="#000" stroke-width="4.4" stroke-linecap="butt"/>
<line x1="1670.8" y1="2314.3" x2="1670.8" y2="2328.8" stroke="#000" stroke-width="4.4" stroke-linecap="butt"/>
<line x1="1750.6" y1="2314.3" x2="1750.6" y2="2341.9" stroke="#000" stroke-width="4.4" stroke-linecap="butt"/>
<text transform="translate(1750.6 2381.4) scale(1 1.045)" font-family="'Liberation Sans', Arial, Helvetica, sans-serif" font-size="38" text-anchor="middle" fill="#000">20</text>
<line x1="129" y1="2313.6" x2="153.9" y2="2313.6" stroke="#000" stroke-width="4.4" stroke-linecap="butt"/>
<text transform="translate(116.9 2327.9) scale(1 1.045)" font-family="'Liberation Sans', Arial, Helvetica, sans-serif" font-size="38" text-anchor="end" fill="#000">0.0</text>
<line x1="140.9" y1="2256" x2="153.9" y2="2256" stroke="#000" stroke-width="4.4" stroke-linecap="butt"/>
<line x1="129" y1="2198.3" x2="153.9" y2="2198.3" stroke="#000" stroke-width="4.4" stroke-linecap="butt"/>
<text transform="translate(116.9 2212.6) scale(1 1.045)" font-family="'Liberation Sans', Arial, Helvetica, sans-serif" font-size="38" text-anchor="end" fill="#000">0.2</text>
<line x1="140.9" y1="2140.7" x2="153.9" y2="2140.7" stroke="#000" stroke-width="4.4" stroke-linecap="butt"/>
<line x1="129" y1="2083.1" x2="153.9" y2="2083.1" stroke="#000" stroke-width="4.4" stroke-linecap="butt"/>
<text transform="translate(116.9 2097.4) scale(1 1.045)" font-family="'Liberation Sans', Arial, Helvetica, sans-serif" font-size="38" text-anchor="end" fill="#000">0.4</text>
<line x1="140.9" y1="2025.4" x2="153.9" y2="2025.4" stroke="#000" stroke-width="4.4" stroke-linecap="butt"/>
<line x1="129" y1="1967.8" x2="153.9" y2="1967.8" stroke="#000" stroke-width="4.4" stroke-linecap="butt"/>
<text transform="translate(116.9 1982.1) scale(1 1.045)" font-family="'Liberation Sans', Arial, Helvetica, sans-serif" font-size="38" text-anchor="end" fill="#000">0.6</text>
<line x1="140.9" y1="1910.2" x2="153.9" y2="1910.2" stroke="#000" stroke-width="4.4" stroke-linecap="butt"/>
<line x1="129" y1="1852.6" x2="153.9" y2="1852.6" stroke="#000" stroke-width="4.4" stroke-linecap="butt"/>
<text transform="translate(116.9 1866.9) scale(1 1.045)" font-family="'Liberation Sans', Arial, Helvetica, sans-serif" font-size="38" text-anchor="end" fill="#000">0.8</text>
<line x1="140.9" y1="1794.9" x2="153.9" y2="1794.9" stroke="#000" stroke-width="4.4" stroke-linecap="butt"/>
<line x1="129" y1="1737.3" x2="153.9" y2="1737.3" stroke="#000" stroke-width="4.4" stroke-linecap="butt"/>
<text transform="translate(116.9 1751.6) scale(1 1.045)" font-family="'Liberation Sans', Arial, Helvetica, sans-serif" font-size="38" text-anchor="end" fill="#000">1.0</text>
<text x="42.3" y="1977" font-family="'Liberation Sans', Arial, Helvetica, sans-serif" font-size="45.5" font-weight="normal" text-anchor="middle" fill="#000" transform="rotate(-90 42.3 1977)">Px</text>
<text x="955.4" y="2424.7" font-family="'Liberation Serif', 'Times New Roman', serif" font-size="45" font-weight="normal" text-anchor="middle" fill="#000">τ (μs)</text>
<text x="34.2" y="1665.1" font-family="'Liberation Sans', Arial, Helvetica, sans-serif" font-size="44.8" font-weight="bold" text-anchor="start" fill="#000">(d)</text>
<rect x="1472.9" y="2229.3" width="263.6" height="63.5" fill="#fff" stroke="#000" stroke-width="2.8"/>
<line x1="1485.8" y1="2245" x2="1511.8" y2="2245" stroke="#000" stroke-width="2.9" stroke-linecap="butt"/>
<line x1="1485.8" y1="2274.7" x2="1511.8" y2="2274.7" stroke="#ee0808" stroke-width="2.9" stroke-linecap="butt"/>
<text x="1518" y="2252.5" font-family="'Liberation Sans', Arial, Helvetica, sans-serif" font-size="22.1" font-weight="normal" text-anchor="start" fill="#000">Original signal</text>
<text x="1518" y="2282.8" font-family="'Liberation Sans', Arial, Helvetica, sans-serif" font-size="22.1" font-weight="normal" text-anchor="start" fill="#000">Reconstructed signal</text>
</g>
</svg>
</body></html>
